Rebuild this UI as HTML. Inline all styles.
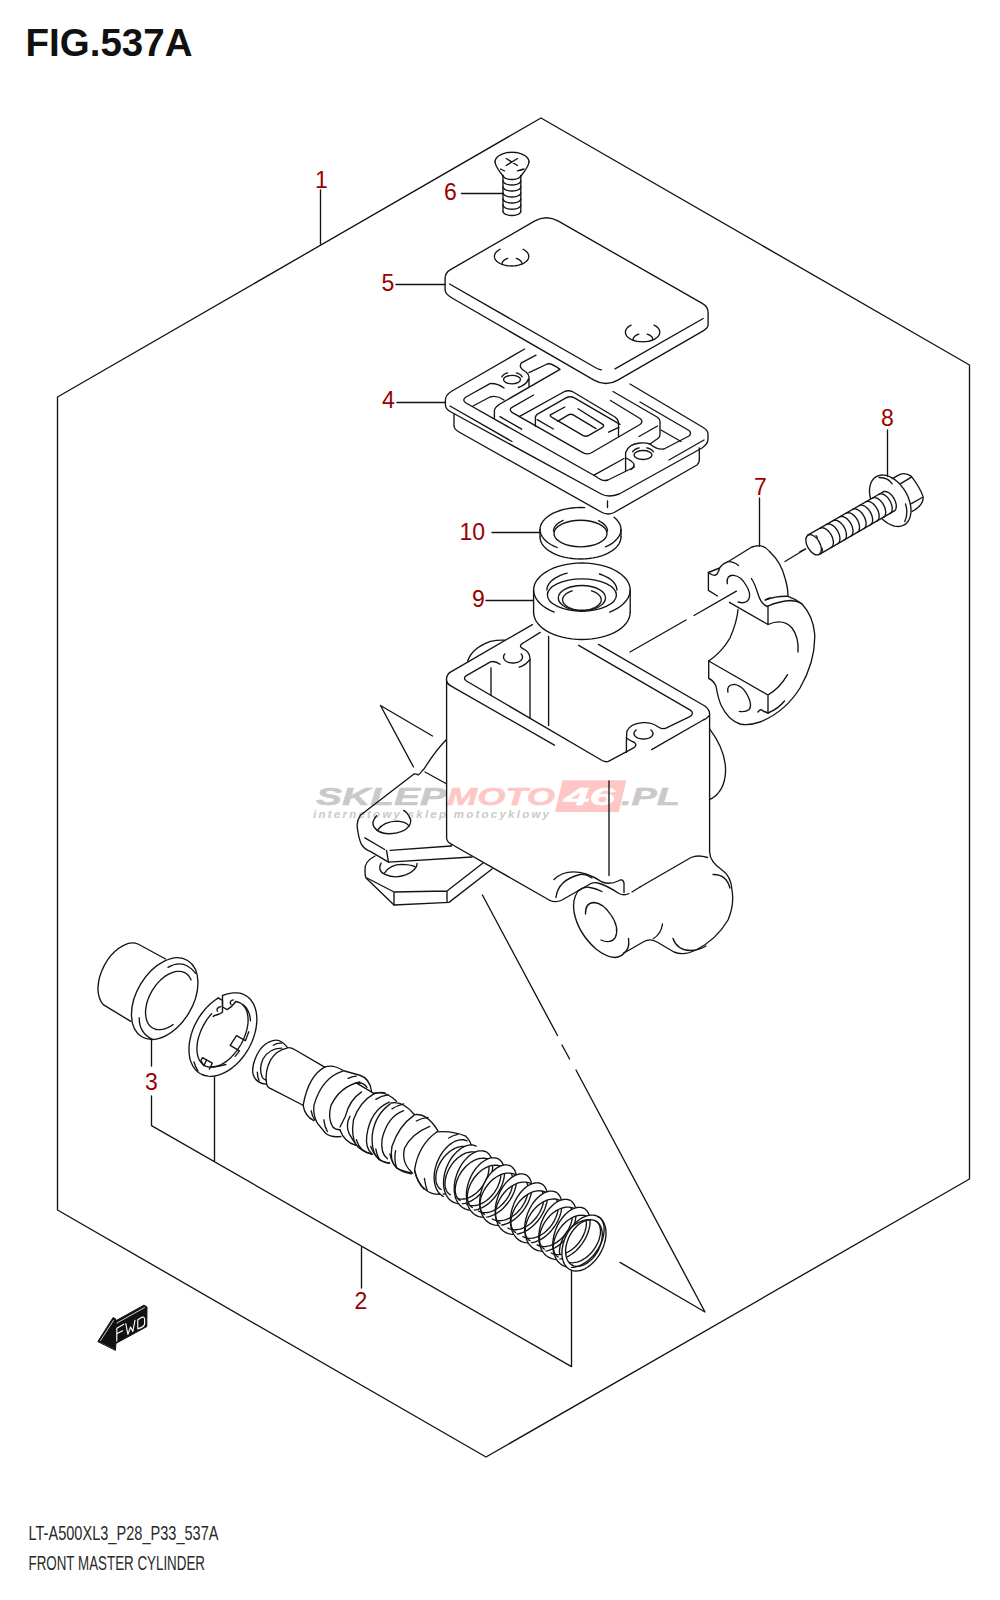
<!DOCTYPE html>
<html><head><meta charset="utf-8"><style>
html,body{margin:0;padding:0;background:#fff;}
svg{display:block;}
text{font-family:"Liberation Sans",sans-serif;}
</style></head><body>
<svg width="1000" height="1600" viewBox="0 0 1000 1600">
<g id="wm" font-family="Liberation Sans" font-weight="bold" font-style="italic">
<path d="M562.5,780.3 L626.3,780.3 L618.8,812 L555,812 Z" fill="#ffc6c6"/>
<text x="316" y="805" font-size="23.7" fill="#c9c9c9" stroke="#c9c9c9" stroke-width="0.5" textLength="130" lengthAdjust="spacingAndGlyphs">SKLEP</text>
<text x="447" y="805" font-size="23.7" fill="#ffc6c6" stroke="#ffc6c6" stroke-width="0.5" textLength="108" lengthAdjust="spacingAndGlyphs">MOTO</text>
<text x="564" y="805" font-size="23.7" fill="#ffffff" stroke="#ffffff" stroke-width="0.4" textLength="51" lengthAdjust="spacingAndGlyphs">46</text>
<text x="621" y="805" font-size="23.7" fill="#c9c9c9" stroke="#c9c9c9" stroke-width="0.5" textLength="59" lengthAdjust="spacingAndGlyphs">.PL</text>
<text x="313" y="818" font-size="11.5" fill="#c9c9c9" textLength="236" lengthAdjust="spacing">internetowy sklep motocyklowy</text>
</g>
<g fill="none" stroke="#141414" stroke-width="1.35" stroke-linecap="round" stroke-linejoin="round">
<!-- hexagon -->
<path d="M541,118 L969.5,365 L969.5,1179 L486,1457 L57.5,1210 L57.5,397 Z"/>
<!-- leaders -->
<path d="M320.5,190 V244 M461.5,193.5 H503 M396,284.5 H445 M397,402.5 H445 M492,532.5 H540 M486,600.5 H533 M887.5,430 V476 M759.5,498 V546"/>
<path d="M151.5,1040 V1066 M151.5,1096 V1125.6 L571.5,1366.6 V1270.5 M214.5,1077 V1161 M361.5,1247.5 V1288"/>
<path d="M495,162 L495.1,161 L495.4,160 L495.8,159 L496.5,158 L497.3,157.1 L498.2,156.3 L499.4,155.5 L500.6,154.8 L502,154.1 L503.5,153.6 L505.1,153.1 L506.7,152.7 L508.5,152.5 L510.2,152.3 L512,152.2 L513.8,152.3 L515.5,152.5 L517.3,152.7 L518.9,153.1 L520.5,153.6 L522,154.1 L523.4,154.8 L524.6,155.5 L525.8,156.3 L526.7,157.1 L527.5,158 L528.2,159 L528.6,160 L528.9,161 L529,162"/>
<path d="M495,162 C495.5,166 499,171 503,176 M529,162 C528.5,166 525,171 521,176"/>
<path d="M500.5,169 C502,170 503.5,170.5 504.5,170.8 M517.5,170.8 C520,170.2 522.5,169.5 524,169"/>
<path d="M506.2,158.5 L517.5,165.5 M506.2,165.5 L517.5,158.5"/>
<path d="M503,176 V211 M520.8,176 V211"/>
<path d="M520.8,175.3 L520.8,175.7 L520.6,176.2 L520.4,176.6 L520,177 L519.6,177.4 L519.1,177.8 L518.5,178.1 L517.9,178.4 L517.1,178.7 L516.4,178.9 L515.5,179.1 L514.7,179.3 L513.8,179.4 L512.8,179.5 L511.9,179.5 L511,179.5 L510,179.4 L509.1,179.3 L508.3,179.1 L507.4,178.9 L506.7,178.7 L505.9,178.4 L505.3,178.1 L504.7,177.8 L504.2,177.4 L503.8,177 L503.4,176.6 L503.2,176.2 L503,175.7 L503,175.3"/>
<path d="M520.8,180.8 L520.8,181.2 L520.6,181.7 L520.4,182.1 L520,182.5 L519.6,182.9 L519.1,183.3 L518.5,183.6 L517.9,183.9 L517.1,184.2 L516.4,184.4 L515.5,184.6 L514.7,184.8 L513.8,184.9 L512.8,185 L511.9,185 L511,185 L510,184.9 L509.1,184.8 L508.3,184.6 L507.4,184.4 L506.7,184.2 L505.9,183.9 L505.3,183.6 L504.7,183.3 L504.2,182.9 L503.8,182.5 L503.4,182.1 L503.2,181.7 L503,181.2 L503,180.8"/>
<path d="M520.8,186.8 L520.8,187.2 L520.6,187.7 L520.4,188.1 L520,188.5 L519.6,188.9 L519.1,189.3 L518.5,189.6 L517.9,189.9 L517.1,190.2 L516.4,190.4 L515.5,190.6 L514.7,190.8 L513.8,190.9 L512.8,191 L511.9,191 L511,191 L510,190.9 L509.1,190.8 L508.3,190.6 L507.4,190.4 L506.7,190.2 L505.9,189.9 L505.3,189.6 L504.7,189.3 L504.2,188.9 L503.8,188.5 L503.4,188.1 L503.2,187.7 L503,187.2 L503,186.8"/>
<path d="M520.8,192.8 L520.8,193.2 L520.6,193.7 L520.4,194.1 L520,194.5 L519.6,194.9 L519.1,195.3 L518.5,195.6 L517.9,195.9 L517.1,196.2 L516.4,196.4 L515.5,196.6 L514.7,196.8 L513.8,196.9 L512.8,197 L511.9,197 L511,197 L510,196.9 L509.1,196.8 L508.3,196.6 L507.4,196.4 L506.7,196.2 L505.9,195.9 L505.3,195.6 L504.7,195.3 L504.2,194.9 L503.8,194.5 L503.4,194.1 L503.2,193.7 L503,193.2 L503,192.8"/>
<path d="M520.8,198.8 L520.8,199.2 L520.6,199.7 L520.4,200.1 L520,200.5 L519.6,200.9 L519.1,201.3 L518.5,201.6 L517.9,201.9 L517.1,202.2 L516.4,202.4 L515.5,202.6 L514.7,202.8 L513.8,202.9 L512.8,203 L511.9,203 L511,203 L510,202.9 L509.1,202.8 L508.3,202.6 L507.4,202.4 L506.7,202.2 L505.9,201.9 L505.3,201.6 L504.7,201.3 L504.2,200.9 L503.8,200.5 L503.4,200.1 L503.2,199.7 L503,199.2 L503,198.8"/>
<path d="M520.8,205 L520.8,205.4 L520.6,205.9 L520.4,206.3 L520,206.7 L519.6,207.1 L519.1,207.5 L518.5,207.8 L517.9,208.1 L517.1,208.4 L516.4,208.6 L515.5,208.8 L514.7,209 L513.8,209.1 L512.8,209.2 L511.9,209.2 L511,209.2 L510,209.1 L509.1,209 L508.3,208.8 L507.4,208.6 L506.7,208.4 L505.9,208.1 L505.3,207.8 L504.7,207.5 L504.2,207.1 L503.8,206.7 L503.4,206.3 L503.2,205.9 L503,205.4 L503,205"/>
<path d="M520.8,211.3 L520.8,211.7 L520.6,212.2 L520.4,212.6 L520,213 L519.6,213.4 L519.1,213.8 L518.5,214.1 L517.9,214.4 L517.1,214.7 L516.4,214.9 L515.5,215.1 L514.7,215.3 L513.8,215.4 L512.8,215.5 L511.9,215.5 L511,215.5 L510,215.4 L509.1,215.3 L508.3,215.1 L507.4,214.9 L506.7,214.7 L505.9,214.4 L505.3,214.1 L504.7,213.8 L504.2,213.4 L503.8,213 L503.4,212.6 L503.2,212.2 L503,211.7 L503,211.3"/>
<path d="M445.1,290 V278 Q445.1,272.7 450.5,269.6 L534.4,221.2 Q546.4,214.3 558.4,221.2 L701.8,303.1 Q708.1,306.7 708.1,312 V324.8 Q708.1,328 703.2,330.8 L617.8,380.1 Q605.9,387 594,380.1 L452,298 Q445.1,294 445.1,290 Z"/>
<path d="M449.6,284 L597,368.5 Q599.5,369.6 601.5,369.8 M615,368.9 L703.2,318.5"/>
<path d="M523.1,249.3 L524.4,250 L525.5,250.8 L526.5,251.6 L527.3,252.5 L528,253.4 L528.4,254.4 L528.7,255.4 L528.8,256.4 L528.7,257.4 L528.4,258.4 L528,259.4 L527.3,260.3 L526.5,261.2 L525.5,262 L524.4,262.8 L523.1,263.5 L521.7,264.2 L520.2,264.7 L518.6,265.2 L516.9,265.5 L515.2,265.8 L513.4,265.9 L511.6,266 L509.8,265.9 L508,265.8 L506.3,265.5 L504.6,265.2 L503,264.7 L501.5,264.2 L500.1,263.5 L498.8,262.8 L497.7,262 L496.7,261.2 L495.9,260.3 L495.2,259.4 L494.8,258.4 L494.5,257.4 L494.4,256.4 L494.5,255.4 L494.8,254.4 L495.2,253.4 L495.9,252.5 L496.7,251.6 L497.7,250.8 L498.8,250 L500.1,249.3"/>
<path d="M502,264 L502.1,263.3 L502.3,262.6 L502.6,261.9 L503,261.3 L503.6,260.7 L504.2,260.1 L505,259.6 L505.8,259.1 L506.8,258.7 L507.8,258.4"/>
<path d="M516.2,258.4 L517.2,258.7 L518.2,259.1 L519,259.6 L519.8,260.1 L520.4,260.7 L521,261.3 L521.4,261.9 L521.7,262.6 L521.9,263.3 L522,264"/>
<path d="M654.1,325.1 L655.4,325.8 L656.5,326.6 L657.5,327.4 L658.3,328.3 L659,329.2 L659.4,330.2 L659.7,331.2 L659.8,332.2 L659.7,333.2 L659.4,334.2 L659,335.2 L658.3,336.1 L657.5,337 L656.5,337.8 L655.4,338.6 L654.1,339.3 L652.7,340 L651.2,340.5 L649.6,341 L647.9,341.3 L646.2,341.6 L644.4,341.7 L642.6,341.8 L640.8,341.7 L639,341.6 L637.3,341.3 L635.6,341 L634,340.5 L632.5,340 L631.1,339.3 L629.8,338.6 L628.7,337.8 L627.7,337 L626.9,336.1 L626.2,335.2 L625.8,334.2 L625.5,333.2 L625.4,332.2 L625.5,331.2 L625.8,330.2 L626.2,329.2 L626.9,328.3 L627.7,327.4 L628.7,326.6 L629.8,325.8 L631.1,325.1"/>
<path d="M633,339.8 L633.1,339.1 L633.3,338.4 L633.6,337.7 L634,337.1 L634.6,336.5 L635.2,335.9 L636,335.4 L636.8,334.9 L637.8,334.5 L638.8,334.2"/>
<path d="M647.2,334.2 L648.2,334.5 L649.2,334.9 L650,335.4 L650.8,335.9 L651.4,336.5 L652,337.1 L652.4,337.7 L652.7,338.4 L652.9,339.1 L653,339.8"/>
<path d="M524.6,349 L452,391 Q445.4,395 445.4,400 V405 Q445.4,409 451,412 L601.2,494 Q608.4,498 619.2,494 L702,448 Q708,444 708,439 V434 Q708,430 702.4,427 L630,384"/>
<path d="M450,406 L512,441.5 M669,460 L704,440"/>
<path d="M454,414 V426 Q454.4,429.5 459,432 L601.2,512 Q608.4,516 615,512 L697,465 Q699.3,463 699.3,460 V448"/>
<path d="M607.5,501 V507.5"/>
<path d="M504,388 Q497,383 490,383.6 L466,397 Q461.5,400 466,403 L596,476.5 Q603,482 608,480 L634.5,467"/>
<path d="M473,406 L490,397 Q497,395 504,400"/>
<ellipse cx="512" cy="379.6" rx="8.5" ry="4.2"/>
<path d="M501.9,376.9 L502.2,376.3 L502.7,375.6 L503.3,375.1 L504,374.5 L504.7,374 L505.6,373.6 L506.6,373.2 L507.6,372.9"/>
<path d="M516.4,372.9 L517.4,373.2 L518.4,373.6 L519.3,374 L520,374.5 L520.7,375.1 L521.3,375.6 L521.8,376.3 L522.1,376.9"/>
<path d="M536,355.2 L521,363.2 Q518.5,368 526,372 Q529,374.5 529,377 V386.4 M518.4,387.5 Q527,384.5 528.4,379"/>
<path d="M529,372.6 L547.2,364 Q551,362.5 560,369.4 L500,404 Q494.4,407.5 494.4,411 V418"/>
<path d="M533.6,395 L512,407.4 Q508.6,409.4 512,412.4 L582.8,452.6 Q587,455 591,453 L640,424.5 Q644,421.5 640,418.5 L610.5,400.5"/>
<path d="M519.2,416.6 L563.6,392 Q568.4,389.6 573.2,392 L615,417 Q618.5,419.5 618.5,423 V436.5"/>
<path d="M535.4,426.2 V417.8 Q535.4,414.8 538.4,413.6 L566,397.8 Q570.2,395.6 574.4,397.8 L620,424.4"/>
<path d="M537.2,419.6 L553.4,429 M550.4,414.8 L564.8,407"/>
<path d="M550.4,414.8 Q549.8,416.6 552.8,417.8 L582.8,435.4 Q585.8,437 588.8,435.4 L602.6,427.4 Q605,425.6 602,423.8 L578,408.8"/>
<path d="M557.6,421.4 L568.4,414.8 Q570.8,413.6 573.2,414.8 L596,428.6"/>
<path d="M608.6,432.2 L618.8,427.4 M500,416.6 L521.6,429.2"/>
<path d="M613,391.5 L657,417 Q660,419 660,422 V434 Q660,437 658.5,438 L650,444"/>
<path d="M640,402 L689,430.5 Q692,433 689,436 L664,449 Q657,450 650,444"/>
<path d="M639,436.5 L657.5,426 M661,430 L681,441.5"/>
<path d="M625.6,470.4 V452.8 Q628,444 640,443 Q646,442.5 650,444"/>
<ellipse cx="643" cy="455" rx="9" ry="4.5"/>
<path d="M632.7,451.8 L633.1,451.1 L633.7,450.5 L634.4,449.9 L635.2,449.4 L636.1,448.9 L637.1,448.5 L638.1,448.2 L639.2,447.9"/>
<path d="M646.8,447.9 L647.9,448.2 L648.9,448.5 L649.9,448.9 L650.8,449.4 L651.6,449.9 L652.3,450.5 L652.9,451.1 L653.3,451.8"/>
<path d="M626,458 Q632,461 634,464 Q634.5,467 631,469.5"/>
<path d="M594,475.1 L624,458.5"/>
<path d="M557.3,547.5 L553.9,546.1 L550.8,544.5 L548.1,542.7 L545.7,540.8 L543.7,538.7 L542.2,536.6 L541,534.3 L540.3,532.1 L540,529.7 L540.2,527.4 L540.8,525.1 L541.9,522.9 L543.4,520.7 L545.3,518.6 L547.6,516.7 L550.2,514.9 L553.2,513.2 L556.5,511.8 L560.1,510.5 L563.9,509.4 L567.9,508.6 L572,508 L576.2,507.6 L580.5,507.5 L584.7,507.6"/>
<path d="M614.1,517.2 L616.3,519.2 L618.1,521.4 L619.5,523.6 L620.5,525.9 L620.9,528.2 L620.9,530.6 L620.5,532.9 L619.6,535.2 L618.2,537.5 L616.4,539.6 L614.2,541.7 L611.7,543.6 L608.7,545.3 L605.4,546.8"/>
<path d="M621,537 L620.8,539.3 L620.1,541.6 L619,543.8 L617.5,545.9 L615.6,548 L613.3,549.9 L610.6,551.7 L607.6,553.3 L604.3,554.8 L600.8,556.1 L597,557.1 L593,557.9 L588.9,558.5 L584.7,558.9 L580.5,559 L576.3,558.9 L572.1,558.5 L568,557.9 L564,557.1 L560.2,556.1 L556.7,554.8 L553.4,553.3 L550.4,551.7 L547.7,549.9 L545.4,548 L543.5,545.9 L542,543.8 L540.9,541.6 L540.2,539.3 L540,537"/>
<path d="M540,529.5 V537 M621,529.5 V537"/>
<ellipse cx="580.5" cy="533.5" rx="26.5" ry="13.3"/>
<path d="M553.5,531 L553.7,529.5 L554.1,528 L554.9,526.6 L556,525.2 L557.4,523.8 L559.1,522.6 L561,521.5 L563.1,520.4"/>
<path d="M598.6,520.7 L600.6,521.8 L602.3,522.9 L603.9,524.1 L605.2,525.4 L606.2,526.7 L606.9,528.1 L607.4,529.6 L607.5,531"/>
<path d="M554.2,612.1 L550.2,610.4 L546.5,608.4 L543.3,606.2 L540.4,603.8 L538.1,601.3 L536.2,598.7 L534.8,595.9 L533.9,593.1 L533.6,590.3 L533.8,587.5 L534.6,584.6 L535.8,581.9 L537.6,579.2 L539.9,576.7 L542.6,574.3 L545.8,572.1 L549.4,570 L553.3,568.2 L557.6,566.7 L562.1,565.4 L566.9,564.3 L571.8,563.6 L576.8,563.1 L581.9,563 L587,563.1 L592,563.6 L596.9,564.3 L601.7,565.4 L606.2,566.7 L610.5,568.2 L614.4,570 L618,572.1 L621.2,574.3 L623.9,576.7 L626.2,579.2 L628,581.9 L629.2,584.6 L630,587.5 L630.2,590.3 L629.9,593.1 L629,595.9 L627.6,598.7 L625.7,601.3 L623.4,603.8 L620.5,606.2 L617.3,608.4 L613.6,610.4 L609.6,612.1"/>
<path d="M630.2,612.5 L629.9,615.3 L629.1,618.1 L627.8,620.8 L626,623.5 L623.7,626 L621,628.4 L617.8,630.6 L614.2,632.6 L610.3,634.3 L606,635.9 L601.5,637.2 L596.8,638.2 L591.9,638.9 L586.9,639.4 L581.9,639.5 L576.9,639.4 L571.9,638.9 L567,638.2 L562.3,637.2 L557.8,635.9 L553.5,634.3 L549.6,632.6 L546,630.6 L542.8,628.4 L540.1,626 L537.8,623.5 L536,620.8 L534.7,618.1 L533.9,615.3 L533.6,612.5"/>
<path d="M533.6,590 V612.5 M630.2,590 V612.5"/>
<path d="M546.9,590 L547.1,587.9 L547.8,585.8 L548.9,583.8 L550.4,581.9 L552.4,580.1 L554.7,578.4 L557.4,576.8 L560.4,575.4 L563.6,574.2 L567.1,573.2"/>
<path d="M599.4,574 L602.5,575 L605.3,576.3 L607.9,577.6 L610.2,579.1 L612.2,580.8 L613.9,582.5 L615.2,584.3 L616.1,586.2 L616.7,588.1 L616.9,590"/>
<ellipse cx="581.9" cy="595" rx="34.5" ry="16.2"/>
<ellipse cx="581.9" cy="598.1" rx="23.6" ry="12.6"/>
<path d="M591.5,590.8 L593.2,591.4 L594.8,592.1 L596.2,592.8 L597.5,593.7 L598.6,594.6 L599.5,595.6 L600.3,596.6 L600.8,597.6 L601.1,598.7 L601.2,599.8 L601.1,600.9 L600.8,602 L600.3,603 L599.5,604 L598.6,605 L597.5,605.9 L596.2,606.8 L594.8,607.5 L593.2,608.2 L591.5,608.8 L589.8,609.3 L587.9,609.7 L585.9,610 L583.9,610.1 L581.9,610.2 L579.9,610.1 L577.9,610 L575.9,609.7 L574,609.3 L572.2,608.8 L570.6,608.2 L569,607.5 L567.6,606.8 L566.3,605.9 L565.2,605 L564.3,604 L563.5,603 L563,602 L562.7,600.9 L562.6,599.8 L562.7,598.7 L563,597.6 L563.5,596.6 L564.3,595.6 L565.2,594.6 L566.3,593.7 L567.6,592.8 L569,592.1 L570.6,591.4 L572.2,590.8"/>
<path d="M532.4,624.6 L449.6,672.6 Q446,675.5 446.6,681 L446.6,838 Q447,842.5 452,844.5 L550,900.5"/>
<path d="M446.6,681 Q447.2,684 450.8,685.8 L554.4,745.2"/>
<path d="M500,664.2 Q495.2,660.6 490.4,661.8 L466.4,675.6 Q462.5,678.3 466.4,681 L602.1,760.5 Q605.7,762.3 608.4,761.4 L633.6,747.9 Q637.5,745.5 634.5,742.5 Q630,740.7 626.4,738"/>
<path d="M491,667.8 V694.8"/>
<path d="M540.2,632.4 L522.8,643.2 Q518,646 522.8,648.6 L526,650.5 Q530,653.4 530,659.4 V718"/>
<path d="M521.2,654 L521.7,654.6 L522,655.1 L522.3,655.8 L522.4,656.4 L522.5,657 L522.4,657.6 L522.3,658.2 L522,658.9 L521.7,659.4 L521.2,660 L520.7,660.5 L520.1,661 L519.4,661.5 L518.6,661.9 L517.8,662.2 L516.9,662.5 L515.9,662.7 L515,662.9 L514,663 L513,663 L512,663 L511,662.9 L510.1,662.7 L509.1,662.5 L508.2,662.2 L507.4,661.9 L506.6,661.5 L505.9,661 L505.3,660.5 L504.8,660 L504.3,659.4 L504,658.9 L503.7,658.2 L503.6,657.6 L503.5,657 L503.6,656.4 L503.7,655.8 L504,655.1 L504.3,654.6 L504.8,654"/>
<path d="M519.2,667.2 Q526.4,664.8 530,659.4"/>
<path d="M548.6,636.5 V725.4"/>
<path d="M467.6,661.2 Q472,648 490.4,641.4 Q498,639.8 504.8,640.2"/>
<path d="M578.7,645.3 L690.3,710.1 Q694.5,713 690.3,716.4 L666,728.1 Q662.4,729.5 658.8,727.2 Q651.6,722 642.6,722.7 Q630,724 627,731 Q626.4,733 626.4,752.4"/>
<path d="M650.8,730 L651.4,730.4 L651.9,730.9 L652.3,731.5 L652.6,732 L652.9,732.6 L653,733.1 L653,733.7 L652.9,734.3 L652.7,734.9 L652.4,735.4 L652,736 L651.5,736.5 L650.9,736.9 L650.3,737.4 L649.5,737.8 L648.7,738.1 L647.8,738.4 L646.9,738.6 L646,738.8 L645,738.9 L644,739 L643,739 L642,738.9 L641,738.8 L640.1,738.6 L639.2,738.4 L638.3,738.1 L637.5,737.8 L636.7,737.4 L636.1,736.9 L635.5,736.5 L635,736 L634.6,735.4 L634.3,734.9 L634.1,734.3 L634,733.7 L634,733.1 L634.1,732.6 L634.4,732 L634.7,731.5 L635.1,730.9 L635.6,730.4 L636.2,730"/>
<path d="M598.5,644.4 L704.8,706 Q709.6,709.6 709.6,714 V852 Q710,862 722,870 Q731,876 732,890 Q734.5,905 728,920 Q716,940 696,950 Q684,956 674,952 L657,942 Q650,938 644,941.5 L624,953"/>
<path d="M709.2,715.6 Q707.2,718.4 703.2,720 L651.6,749.7"/>
<path d="M709.6,728.8 Q725.6,750 725.6,770.4 Q725,792 709.6,799.6"/>
<path d="M609,781 V875.5"/>
<path d="M640,887 L691,857.5 Q698,854.5 707.5,857.5"/>
<path d="M632,892 L640,887"/>
<path d="M713,874.5 Q726,874 730,888 M673,938.5 Q677,950 690,950.5 Q700,950 706,946"/>
<path d="M662.5,924 Q661,934 653.5,938.5"/>
<path d="M550,900.5 Q556,903 562,900 L590,884 Q594,882 598,883 Q606,885 619,893.5 Q624,896 629,893.5"/>
<path d="M554,879.5 Q566,868 586,874 Q595,877 602,882 Q610,885 618,881 Q623,878 624,883 V892.5"/>
<path d="M556,897.5 Q558,880 580,874.5 Q586,874 592,878"/>
<path d="M578,891 Q572,900 574,912 Q578,933 596,949 Q606,957 615,957.5 Q621,957 624,953"/>
<path d="M578,891 Q584,886 590,887.5 Q596,888.5 602,891.5"/>
<path d="M585.5,914 Q585,903 594,902.5 Q603,903 611,915 Q620,928 615,938 Q610,944 601,940"/>
<path d="M628.5,938.5 Q630,949 624,953"/>
<path d="M380.5,705.5 L432.5,736 M380.5,705.5 L413.5,767"/>
<path d="M446,740 Q436,750 424,769 L422,771 Q420,774 418,775 Q416,773.5 414,774 L360.4,815.3 Q356.5,820.7 357.25,827 Q358.5,838 361.3,844.1 Q364,849 370.3,851.3 L388.5,862.1 L472,857"/>
<path d="M425,772 L446,783.5"/>
<path d="M364.9,837.8 L384.7,849.5 M386.5,850.4 L388.5,862.1 M390.1,850.4 L451,846"/>
<path d="M452,844.5 L451,846"/>
<path d="M376.6,815.75 Q371,822 374,827 Q379,834 389.2,833.75 Q404,833 409,826.1 Q412,821 409.9,818 Q407.5,812.5 403.6,810.35"/>
<path d="M378,829.7 Q384,821.5 397.3,821.2 Q405,821.5 409,825.85"/>
<path d="M375,856 Q364,862 365,870 Q365,876 366,878 L394,905 L449,902.4 L492,869"/>
<path d="M367,878 L394,892 V905 M394,892 L447,891 V902 M447,891 L483,863"/>
<path d="M381.1,863 Q377,871 385.6,874.7 Q395,879 406.3,874.7 Q417,870 417.1,863.5"/>
<path d="M384.7,872.9 Q390,864.5 401.8,864.35 Q410,864.5 414.9,866.6"/>
<path d="M770,551.9 Q765,546 759.5,545.6 Q755,545.8 751.8,547 L728,561.7 Q722.4,563.8 719.6,568 L708.4,572.5 V590.4 L717.5,596"/>
<path d="M708.4,572.5 Q714,577 716.8,574.3 Q719,571 719.6,568"/>
<path d="M728,561.7 Q733.6,561.5 738.5,565.5"/>
<path d="M727.3,583.7 Q726,575 733.6,575.3 Q741,576 746.2,585.5 Q751,593 749,598.8 Q746,604.5 738.1,602"/>
<path d="M729.4,602.3 L768,624.5 V606.5"/>
<path d="M751.4,578.5 Q755,584 758,594 Q761,604 767.2,606.5"/>
<path d="M765.1,600.2 Q768,598.5 770,598"/>
<path d="M770,551.9 Q781,562 785,578 Q788,588 788,596.3 Q796,599 802,604 Q813,616 814.6,633.4 Q816,660 800,688 Q785,712 760,722 Q748,726 740,724 Q728,720 721,705 Q718,698 716,686 Q713,680 708.7,678.5 V661"/>
<path d="M708.7,661 Q722,652 730,638 Q737,622 738,609.5"/>
<path d="M708.7,661 L768,695 V713 M768,695 Q780,688 787.5,674.7"/>
<path d="M768,624.5 Q783,618 792,628 Q799,637 798,652"/>
<path d="M765.6,599.8 Q776,596 788,596.3 M767.7,606.1 Q779.6,601 790.8,600.5 Q797.8,601 802,604"/>
<path d="M727.9,692.1 Q726.5,684.5 734.3,684.3 Q745,686 750,701.4 Q753,713 739.3,711.4"/>
<path d="M768,713 Q778,709 784.5,701"/>
<path d="M758,712 Q761,708 763,711 L768,713"/>
<path d="M630,652 L686,620 M694,615.5 L736.4,591.1 M785,561.5 L805.5,549"/>
<ellipse cx="813.6" cy="544.8" rx="11.1" ry="6.3" transform="rotate(60 813.6 544.8)"/>
<path d="M807.8,535.2 L882.9,492 M819.4,554.4 L893.9,511.2"/>
<path d="M816,535.5 L817.5,538 M822,548 L822.5,551"/>
<path d="M820,528.3 L820.6,528 L821.3,527.8 L822,527.8 L822.7,527.8 L823.5,528 L824.3,528.2 L825.1,528.6 L825.9,529.1 L826.7,529.7 L827.5,530.3 L828.3,531.1 L829.1,531.9 L829.8,532.8 L830.4,533.7 L831.1,534.7 L831.6,535.7 L832.1,536.8 L832.5,537.8 L832.8,538.9 L833.1,540 L833.3,541 L833.4,542 L833.4,542.9 L833.3,543.8 L833.1,544.6 L832.9,545.4 L832.6,546 L832.2,546.6 L831.7,547.1 L831.1,547.5"/>
<path d="M826.6,524.5 L827.2,524.2 L827.8,524 L828.5,524 L829.3,524 L830.1,524.2 L830.8,524.5 L831.7,524.8 L832.5,525.3 L833.3,525.9 L834.1,526.6 L834.9,527.3 L835.6,528.1 L836.3,529 L837,530 L837.6,530.9 L838.1,532 L838.6,533 L839,534.1 L839.4,535.1 L839.6,536.2 L839.8,537.2 L839.9,538.2 L839.9,539.1 L839.8,540 L839.7,540.8 L839.4,541.6 L839.1,542.3 L838.7,542.8 L838.2,543.3 L837.7,543.7"/>
<path d="M833.1,520.7 L833.7,520.4 L834.4,520.3 L835.1,520.2 L835.8,520.3 L836.6,520.4 L837.4,520.7 L838.2,521.1 L839,521.6 L839.8,522.1 L840.6,522.8 L841.4,523.5 L842.1,524.4 L842.9,525.2 L843.5,526.2 L844.1,527.2 L844.7,528.2 L845.2,529.2 L845.6,530.3 L845.9,531.4 L846.2,532.4 L846.3,533.4 L846.4,534.4 L846.4,535.4 L846.4,536.3 L846.2,537.1 L846,537.8 L845.6,538.5 L845.2,539.1 L844.8,539.6 L844.2,539.9"/>
<path d="M839.7,516.9 L840.3,516.7 L840.9,516.5 L841.6,516.4 L842.4,516.5 L843.1,516.6 L843.9,516.9 L844.7,517.3 L845.5,517.8 L846.4,518.4 L847.2,519 L847.9,519.8 L848.7,520.6 L849.4,521.5 L850.1,522.4 L850.7,523.4 L851.2,524.4 L851.7,525.5 L852.1,526.5 L852.5,527.6 L852.7,528.6 L852.9,529.7 L853,530.6 L853,531.6 L852.9,532.5 L852.7,533.3 L852.5,534.1 L852.2,534.7 L851.8,535.3 L851.3,535.8 L850.8,536.2"/>
<path d="M846.2,513.2 L846.8,512.9 L847.5,512.7 L848.2,512.7 L848.9,512.7 L849.7,512.9 L850.5,513.1 L851.3,513.5 L852.1,514 L852.9,514.6 L853.7,515.2 L854.5,516 L855.2,516.8 L855.9,517.7 L856.6,518.6 L857.2,519.6 L857.8,520.6 L858.2,521.7 L858.7,522.7 L859,523.8 L859.2,524.9 L859.4,525.9 L859.5,526.9 L859.5,527.8 L859.4,528.7 L859.3,529.5 L859,530.3 L858.7,530.9 L858.3,531.5 L857.8,532 L857.3,532.4"/>
<path d="M852.7,509.4 L853.3,509.1 L854,508.9 L854.7,508.9 L855.4,508.9 L856.2,509.1 L857,509.4 L857.8,509.7 L858.6,510.2 L859.4,510.8 L860.2,511.5 L861,512.2 L861.8,513 L862.5,513.9 L863.1,514.9 L863.7,515.9 L864.3,516.9 L864.8,517.9 L865.2,519 L865.5,520 L865.8,521.1 L866,522.1 L866.1,523.1 L866.1,524 L866,524.9 L865.8,525.8 L865.6,526.5 L865.2,527.2 L864.8,527.7 L864.4,528.2 L863.8,528.6"/>
<path d="M859.3,505.6 L859.9,505.3 L860.5,505.2 L861.2,505.1 L862,505.2 L862.7,505.3 L863.5,505.6 L864.4,506 L865.2,506.5 L866,507 L866.8,507.7 L867.6,508.4 L868.3,509.3 L869,510.1 L869.7,511.1 L870.3,512.1 L870.8,513.1 L871.3,514.1 L871.7,515.2 L872.1,516.3 L872.3,517.3 L872.5,518.3 L872.6,519.3 L872.6,520.3 L872.5,521.2 L872.4,522 L872.1,522.7 L871.8,523.4 L871.4,524 L870.9,524.5 L870.4,524.8"/>
<path d="M865.8,501.8 L866.4,501.6 L867.1,501.4 L867.8,501.3 L868.5,501.4 L869.3,501.5 L870.1,501.8 L870.9,502.2 L871.7,502.7 L872.5,503.3 L873.3,503.9 L874.1,504.7 L874.8,505.5 L875.5,506.4 L876.2,507.3 L876.8,508.3 L877.4,509.3 L877.9,510.4 L878.3,511.4 L878.6,512.5 L878.9,513.5 L879,514.6 L879.1,515.5 L879.1,516.5 L879.1,517.4 L878.9,518.2 L878.7,519 L878.3,519.6 L877.9,520.2 L877.5,520.7 L876.9,521.1"/>
<path d="M872.4,498.1 L873,497.8 L873.6,497.6 L874.3,497.6 L875,497.6 L875.8,497.8 L876.6,498 L877.4,498.4 L878.2,498.9 L879.1,499.5 L879.9,500.1 L880.6,500.9 L881.4,501.7 L882.1,502.6 L882.7,503.5 L883.4,504.5 L883.9,505.5 L884.4,506.6 L884.8,507.6 L885.1,508.7 L885.4,509.8 L885.6,510.8 L885.7,511.8 L885.7,512.7 L885.6,513.6 L885.4,514.4 L885.2,515.2 L884.9,515.8 L884.5,516.4 L884,516.9 L883.5,517.3"/>
<path d="M878.9,494.3 L879.5,494 L880.1,493.8 L880.8,493.8 L881.6,493.8 L882.4,494 L883.2,494.3 L884,494.6 L884.8,495.1 L885.6,495.7 L886.4,496.4 L887.2,497.1 L887.9,497.9 L888.6,498.8 L889.3,499.8 L889.9,500.8 L890.4,501.8 L890.9,502.8 L891.3,503.9 L891.7,504.9 L891.9,506 L892.1,507 L892.2,508 L892.2,508.9 L892.1,509.8 L892,510.7 L891.7,511.4 L891.4,512.1 L891,512.6 L890.5,513.1 L890,513.5"/>
<path d="M883,492 L883.6,491.7 L884.2,491.5 L884.9,491.5 L885.6,491.5 L886.4,491.7 L887.2,492 L888,492.3 L888.8,492.8 L889.7,493.4 L890.5,494.1 L891.2,494.8 L892,495.6 L892.7,496.5 L893.3,497.5 L894,498.5 L894.5,499.5 L895,500.5 L895.4,501.6 L895.7,502.6 L896,503.7 L896.2,504.7 L896.3,505.7 L896.3,506.6 L896.2,507.5 L896,508.4 L895.8,509.1 L895.5,509.8 L895.1,510.3 L894.6,510.8 L894,511.2"/>
<path d="M870.6,499 L870,496.3 L869.6,493.7 L869.5,491.2 L869.6,488.7 L870,486.4 L870.5,484.2 L871.3,482.3 L872.2,480.5 L873.4,479 L874.8,477.6 L876.3,476.6 L878,475.8 L879.8,475.3 L881.7,475 L883.7,475.1 L885.8,475.4 L888,476 L890.1,476.9 L892.3,478 L894.5,479.4 L896.5,481 L898.6,482.8 L900.5,484.9 L902.3,487.1 L904,489.4 L905.6,491.9 L907,494.5 L908.1,497.1 L909.1,499.8 L909.9,502.5 L910.5,505.2 L910.9,507.8 L911,510.3 L910.9,512.8 L910.5,515.1 L910,517.2 L909.2,519.2 L908.3,521 L907.1,522.5 L905.7,523.9 L904.2,524.9 L902.5,525.7 L900.7,526.2 L898.8,526.5 L896.8,526.4 L894.7,526.1 L892.5,525.5 L890.4,524.6 L888.2,523.5 L886,522.1 L884,520.5 L881.9,518.7"/>
<path d="M879,477.5 Q888,477.2 892.2,483.8 M905.5,504 Q908.5,513.2 904.8,521.6"/>
<path d="M892.2,478.6 L900,474.3 Q905.7,472.1 911.4,476.4 Q920.7,488.6 923.2,497.1 Q923.5,505.7 912.1,511.4"/>
<path d="M900.7,483.6 L911.4,477.1 M911.4,503.6 L922.1,497.5"/>
<path d="M800,551.5 L805.5,549"/>
<path d="M165.6,959 L138,944 Q133.2,942 128.4,943.4 Q108,950.6 99.6,977 Q95,995 103.2,1004.6 L130.8,1021.4"/>
<ellipse cx="164.7" cy="998.6" rx="44.5" ry="28.1" transform="rotate(-59 164.7 998.6)" fill="#fff"/>
<path d="M173.2,1024.5 L170.8,1026.1 L168.3,1027.4 L165.8,1028.5 L163.4,1029.2 L161,1029.6 L158.8,1029.7 L156.6,1029.5 L154.6,1028.9 L152.7,1028 L151,1026.8 L149.5,1025.4 L148.2,1023.6 L147.2,1021.6 L146.4,1019.4 L145.9,1016.9 L145.6,1014.3 L145.5,1011.5 L145.8,1008.6 L146.3,1005.6 L147,1002.5 L148,999.4 L149.2,996.4 L150.7,993.3 L152.3,990.4 L154.2,987.6 L156.1,984.9 L158.3,982.4 L160.5,980.1 L162.9,978 L165.3,976.1 L167.8,974.6 L170.3,973.3 L172.7,972.3 L175.1,971.7 L177.5,971.3 L179.8,971.3 L181.9,971.6 L183.9,972.3 L185.7,973.2 L187.4,974.5 L188.8,976 L190,977.8 L191,979.9"/>
<path d="M168,967.4 Q183.6,958 195.6,973.4"/>
<path d="M139.2,1017.8 Q139,1033 152.4,1039.4"/>
<path d="M222.7,995.6 L226.3,994.2 L229.9,993.3 L233.3,992.8 L236.7,992.8 L239.9,993.2 L242.9,994.1 L245.7,995.5 L248.2,997.3 L250.5,999.5 L252.4,1002.1 L254,1005.1 L255.3,1008.4 L256.2,1012 L256.7,1015.8 L256.9,1019.9 L256.6,1024.1 L256,1028.5 L255,1032.9 L253.7,1037.3 L252,1041.7 L250,1046 L247.7,1050.2 L245.1,1054.2 L242.2,1058 L239.2,1061.5 L235.9,1064.7 L232.5,1067.6 L229,1070.1 L225.5,1072.2 L221.9,1073.9 L218.3,1075.2 L214.7,1076 L211.3,1076.3 L208,1076.1 L204.8,1075.5 L201.9,1074.5 L199.2,1073 L196.8,1071 L194.6,1068.6 L192.8,1065.9 L191.3,1062.8 L190.1,1059.4 L189.4,1055.7 L189,1051.8 L189,1047.7 L189.3,1043.4 L190.1,1039 L191.2,1034.6 L192.6,1030.2 L194.4,1025.8 L196.6,1021.6 L199,1017.4 L201.7,1013.5 L204.6,1009.8 L207.7,1006.4 L211,1003.3 L214.5,1000.5 L218,998.1"/>
<path d="M235.6,1001.5 L237.8,1002 L239.9,1002.8 L241.8,1004 L243.5,1005.5 L244.9,1007.4 L246.1,1009.5 L247,1011.9 L247.6,1014.6 L248,1017.5 L248.1,1020.6 L247.9,1023.9 L247.4,1027.2 L246.6,1030.7 L245.5,1034.1 L244.2,1037.6 L242.7,1041.1 L240.9,1044.5 L238.9,1047.7 L236.7,1050.8 L234.4,1053.7 L231.9,1056.4 L229.4,1058.9 L226.7,1061.1 L224,1062.9 L221.3,1064.5 L218.6,1065.7 L215.9,1066.6 L213.4,1067.1 L210.9,1067.2 L208.5,1067 L206.3,1066.3 L204.3,1065.4 L202.5,1064.1 L200.9,1062.4 L199.6,1060.4 L198.5,1058.2 L197.7,1055.6 L197.2,1052.9 L196.9,1049.9 L197,1046.7 L197.3,1043.4 L197.9,1040 L198.8,1036.6 L200,1033.1 L201.4,1029.6 L203,1026.2 L204.9,1022.8 L206.9,1019.6 L209.2,1016.6 L211.6,1013.8"/>
<path d="M218.2,997.8 L222.5,1000.4 V1012.2 L219.5,1014 Q214,1015.5 213.2,1016.5"/>
<path d="M222.5,995.2 V1007 L227.2,1009.6 Q231.8,1007 235.5,1002"/>
<path d="M220.8,1006.7 Q215.7,1008 217.4,1011.3 M233.5,999.9 Q228.5,1001 231,1004.5"/>
<path d="M236.5,1035.6 L230.2,1045.4 L239.5,1050.9 L235.2,1056.4 M236.5,1035.6 L245.4,1040.7 L248.8,1031.8"/>
<path d="M202.5,1057.7 L212.3,1063.2 L209.3,1069.2 M202.5,1057.7 L200.8,1060.6 L203.8,1065.7 L206.3,1060.6"/>
<path d="M242.9,1004.5 Q249.7,1009.6 250.5,1020.7 M210.6,1067 Q218.3,1066.6 225.9,1064.5 M194,1062 Q195.3,1066.6 197.8,1070.8"/>
<path d="M287.6,1047.6 Q281.5,1040 276.2,1040.1 Q263,1041.5 256.4,1056 Q251,1068 253.4,1075.2 Q256,1083 266,1084.2"/>
<path d="M281.6,1048.2 Q269,1048.5 263,1059 Q258.5,1069 262.4,1077.6 Q264,1079.5 266,1080"/>
<path d="M287,1048.2 Q276.8,1050.3 270.8,1059.6 Q264.5,1071 266.6,1084.2 Q268,1088 270.8,1088.6 L303.5,1105.5"/>
<path d="M273.2,1045.2 Q276.8,1042.8 281.6,1043.1 M257.3,1072.2 Q257.6,1077.6 259.1,1080.6"/>
<path d="M287.6,1047.6 Q292,1047.5 294.5,1049.5 L324.7,1067.2"/>
<path d="M324.7,1067.2 Q308.5,1075.7 303.1,1105.4 Q304.9,1116.2 313.9,1120.7"/>
<path d="M324.7,1067.2 Q332.8,1064 343.6,1070.75 L359.8,1075.25 Q369.7,1078.4 371.5,1091"/>
<path d="M342.7,1071.2 Q322,1077.5 313.9,1105.4 Q313,1116.2 317.5,1123.4 L325.6,1133.3 Q331,1137.8 340.9,1136.5"/>
<path d="M359.8,1082 Q340,1086.5 331,1105.4 Q327.4,1118 332.8,1127 Q335.5,1129.7 340,1129.7"/>
<path d="M356.2,1082.9 Q363.4,1082 367,1087.4 M356.2,1082.9 L374.2,1093.7"/>
<path d="M361.6,1091.9 Q349.4,1100 345.4,1116.2 L340,1127"/>
<path d="M348.1,1078.4 Q351.7,1076.6 356.2,1076.2"/>
<path d="M311.2,1110.8 Q312.1,1116.2 314.8,1119.8 M323.8,1119.8 Q324.7,1127 327.4,1131.5"/>
<path d="M374.2,1093.7 Q380.5,1091.9 385,1092.8"/>
<path d="M374.2,1093.7 Q359.8,1101.8 353.5,1119.8 Q350.8,1136 356.2,1145 Q361,1151 372.2,1154.3"/>
<path d="M374,1093.1 Q385.7,1090.4 396.5,1101.2"/>
<path d="M375.8,1099.4 Q381.2,1095.8 388.4,1094.9"/>
<path d="M389.3,1102.1 Q370.4,1110.2 366.8,1135.4 Q365,1148 372.2,1154.3"/>
<path d="M391.1,1103 Q402.8,1100.3 414.5,1114.7"/>
<path d="M390.2,1103.9 Q374.9,1114.7 372.2,1135.4 Q371.3,1153.4 379.4,1159.7 Q384.8,1163.3 389.3,1162.4"/>
<path d="M392,1108.9 Q396.5,1105.7 403.7,1103.9"/>
<path d="M403.7,1110.7 Q387.5,1116.5 382.1,1139 Q380.3,1153.4 387.5,1158.8"/>
<path d="M375.8,1148.9 Q376.7,1155 379.4,1159.7"/>
<path d="M414.5,1114.7 Q427.1,1112.9 437.9,1130.9"/>
<path d="M413.6,1115.6 Q399.2,1125.5 392,1146.2 Q389.3,1161.5 396.5,1167.8 Q402.8,1171.4 412.7,1173.2"/>
<path d="M416.3,1121 Q420.8,1118.3 428,1117.4"/>
<path d="M429.8,1126.4 Q411.8,1133.6 404.6,1148 Q401,1162.4 411.8,1172.3"/>
<path d="M395.6,1150.7 Q393.8,1158.8 396.5,1167.8"/>
<path d="M437,1131.8 Q453,1130.5 465.8,1136.2 Q472,1142.5 472,1149.7"/>
<path d="M437,1131.8 Q418.1,1145.2 414.5,1170.4 Q418.1,1184.8 426.2,1190.2 Q432.5,1195.6 446,1193.8"/>
<path d="M424.4,1178.5 Q425.3,1184.8 427.1,1190.2"/>
<path d="M448.7,1138 Q453.2,1135.3 457.7,1134.4"/>
<path d="M452.9,1202 L454.4,1202.7 L456,1203.2 L457.6,1203.6 L459.3,1203.8 L461.1,1203.8 L462.9,1203.6 L464.7,1203.3 L466.6,1202.8 L468.4,1202.2 L470.3,1201.3 L472.1,1200.4 L473.9,1199.2 L475.7,1198 L477.5,1196.6 L479.1,1195.1 L480.8,1193.4 L482.3,1191.7 L483.8,1189.9 L485.2,1188 L486.4,1186 L487.6,1183.9 L488.7,1181.9 L489.6,1179.8 L490.5,1177.6 L491.2,1175.5 L491.7,1173.4 L492.2,1171.3 L492.5,1169.3 L492.7,1167.3 L492.7,1165.3 L492.6,1163.5 L492.3,1161.7 L492,1160 L491.5,1158.5 L490.9,1157 L490.1,1155.7 L489.3,1154.5 L488.3,1153.5 L487.2,1152.6 L486.1,1151.9"/>
<path d="M455.3,1197.6 L456.5,1198.2 L457.9,1198.6 L459.3,1199 L460.7,1199.1 L462.2,1199.2 L463.7,1199 L465.3,1198.8 L466.8,1198.4 L468.4,1197.8 L469.9,1197.2 L471.5,1196.4 L473,1195.4 L474.5,1194.4 L476,1193.2 L477.4,1192 L478.8,1190.6 L480.1,1189.2 L481.4,1187.7 L482.5,1186.1 L483.6,1184.5 L484.6,1182.8 L485.5,1181.1 L486.3,1179.3 L487.1,1177.6 L487.7,1175.8 L488.2,1174.1 L488.5,1172.3 L488.8,1170.6 L489,1169 L489,1167.4 L489,1165.8 L488.8,1164.4 L488.5,1163 L488.1,1161.7 L487.6,1160.5 L487,1159.4 L486.3,1158.5 L485.5,1157.6 L484.7,1156.9 L483.7,1156.3"/>
<path d="M464,1208.4 L465.5,1209.1 L467.1,1209.6 L468.8,1210 L470.5,1210.2 L472.3,1210.3 L474.1,1210.1 L476,1209.8 L477.8,1209.3 L479.7,1208.7 L481.6,1207.9 L483.5,1206.9 L485.3,1205.8 L487.1,1204.6 L488.9,1203.2 L490.6,1201.7 L492.2,1200.1 L493.8,1198.3 L495.3,1196.5 L496.7,1194.6 L498,1192.7 L499.2,1190.6 L500.3,1188.6 L501.3,1186.5 L502.2,1184.4 L502.9,1182.3 L503.5,1180.2 L504,1178.1 L504.3,1176.1 L504.5,1174.1 L504.5,1172.2 L504.5,1170.3 L504.3,1168.6 L503.9,1166.9 L503.4,1165.4 L502.8,1163.9 L502.1,1162.6 L501.3,1161.5 L500.4,1160.5 L499.3,1159.6 L498.2,1158.9"/>
<path d="M466.3,1204 L467.6,1204.6 L469,1205.1 L470.4,1205.4 L471.9,1205.6 L473.4,1205.6 L474.9,1205.5 L476.5,1205.3 L478.1,1204.9 L479.7,1204.4 L481.3,1203.7 L482.8,1202.9 L484.4,1202 L485.9,1201 L487.4,1199.8 L488.9,1198.6 L490.3,1197.3 L491.6,1195.8 L492.9,1194.3 L494.1,1192.8 L495.2,1191.2 L496.2,1189.5 L497.2,1187.8 L498,1186.1 L498.7,1184.3 L499.4,1182.6 L499.9,1180.8 L500.3,1179.1 L500.6,1177.5 L500.8,1175.8 L500.9,1174.2 L500.8,1172.7 L500.7,1171.3 L500.4,1169.9 L500.1,1168.6 L499.6,1167.4 L499,1166.4 L498.4,1165.4 L497.6,1164.6 L496.8,1163.9 L495.8,1163.3"/>
<path d="M476.1,1215.4 L477.6,1216.1 L479.2,1216.6 L480.9,1217 L482.6,1217.2 L484.4,1217.3 L486.2,1217.1 L488.1,1216.8 L490,1216.3 L491.8,1215.7 L493.7,1214.9 L495.6,1213.9 L497.4,1212.8 L499.2,1211.6 L501,1210.2 L502.7,1208.7 L504.4,1207.1 L505.9,1205.3 L507.4,1203.5 L508.8,1201.6 L510.2,1199.7 L511.4,1197.6 L512.5,1195.6 L513.4,1193.5 L514.3,1191.4 L515,1189.3 L515.6,1187.2 L516.1,1185.1 L516.4,1183.1 L516.6,1181.1 L516.7,1179.2 L516.6,1177.3 L516.4,1175.6 L516,1173.9 L515.6,1172.4 L515,1170.9 L514.3,1169.6 L513.4,1168.5 L512.5,1167.5 L511.5,1166.6 L510.3,1165.9"/>
<path d="M478.4,1211 L479.7,1211.6 L481.1,1212.1 L482.5,1212.4 L484,1212.6 L485.5,1212.6 L487,1212.5 L488.6,1212.3 L490.2,1211.9 L491.8,1211.4 L493.4,1210.7 L495,1209.9 L496.5,1209 L498.1,1208 L499.6,1206.8 L501,1205.6 L502.4,1204.3 L503.7,1202.8 L505,1201.3 L506.2,1199.8 L507.3,1198.2 L508.4,1196.5 L509.3,1194.8 L510.1,1193.1 L510.9,1191.3 L511.5,1189.6 L512,1187.8 L512.4,1186.1 L512.7,1184.5 L512.9,1182.8 L513,1181.2 L513,1179.7 L512.8,1178.3 L512.6,1176.9 L512.2,1175.6 L511.7,1174.4 L511.2,1173.4 L510.5,1172.4 L509.7,1171.6 L508.9,1170.9 L508,1170.3"/>
<path d="M489.9,1223.4 L491.5,1224.1 L493.2,1224.7 L494.9,1225.1 L496.6,1225.3 L498.5,1225.4 L500.3,1225.3 L502.2,1225 L504.2,1224.5 L506.1,1223.9 L508,1223.1 L509.9,1222.2 L511.8,1221.1 L513.7,1219.9 L515.5,1218.5 L517.2,1217.1 L518.9,1215.5 L520.5,1213.8 L522.1,1212 L523.5,1210.1 L524.9,1208.2 L526.1,1206.2 L527.3,1204.1 L528.3,1202.1 L529.2,1200 L529.9,1197.9 L530.6,1195.8 L531.1,1193.8 L531.5,1191.8 L531.7,1189.8 L531.8,1187.9 L531.8,1186.1 L531.6,1184.4 L531.3,1182.7 L530.9,1181.2 L530.3,1179.8 L529.7,1178.5 L528.9,1177.4 L528,1176.4 L527,1175.6 L525.9,1174.9"/>
<path d="M492.3,1219 L493.6,1219.6 L495,1220.1 L496.5,1220.5 L498,1220.7 L499.6,1220.7 L501.2,1220.7 L502.8,1220.4 L504.4,1220.1 L506,1219.6 L507.7,1218.9 L509.3,1218.2 L510.9,1217.3 L512.5,1216.3 L514,1215.2 L515.5,1214 L517,1212.7 L518.3,1211.3 L519.7,1209.8 L520.9,1208.3 L522.1,1206.7 L523.1,1205 L524.1,1203.3 L525,1201.6 L525.8,1199.9 L526.4,1198.2 L527,1196.5 L527.5,1194.8 L527.8,1193.2 L528,1191.5 L528.2,1190 L528.2,1188.5 L528.1,1187.1 L527.8,1185.7 L527.5,1184.5 L527.1,1183.3 L526.6,1182.3 L525.9,1181.4 L525.2,1180.5 L524.4,1179.9 L523.6,1179.3"/>
<path d="M505.5,1232.4 L507.1,1233.1 L508.7,1233.7 L510.5,1234.1 L512.2,1234.3 L514.1,1234.4 L515.9,1234.3 L517.8,1234 L519.7,1233.5 L521.7,1232.9 L523.6,1232.1 L525.5,1231.2 L527.4,1230.1 L529.2,1228.9 L531.1,1227.5 L532.8,1226.1 L534.5,1224.5 L536.1,1222.8 L537.7,1221 L539.1,1219.1 L540.5,1217.2 L541.7,1215.2 L542.8,1213.1 L543.9,1211.1 L544.8,1209 L545.5,1206.9 L546.2,1204.8 L546.7,1202.8 L547.1,1200.8 L547.3,1198.8 L547.4,1196.9 L547.4,1195.1 L547.2,1193.4 L546.9,1191.7 L546.5,1190.2 L545.9,1188.8 L545.3,1187.5 L544.5,1186.4 L543.6,1185.4 L542.6,1184.6 L541.5,1183.9"/>
<path d="M507.9,1228 L509.2,1228.6 L510.6,1229.1 L512.1,1229.5 L513.6,1229.7 L515.2,1229.7 L516.7,1229.7 L518.4,1229.4 L520,1229.1 L521.6,1228.6 L523.3,1227.9 L524.9,1227.2 L526.5,1226.3 L528.1,1225.3 L529.6,1224.2 L531.1,1223 L532.5,1221.7 L533.9,1220.3 L535.2,1218.8 L536.5,1217.3 L537.6,1215.7 L538.7,1214 L539.7,1212.3 L540.6,1210.6 L541.4,1208.9 L542,1207.2 L542.6,1205.5 L543.1,1203.8 L543.4,1202.2 L543.6,1200.5 L543.7,1199 L543.8,1197.5 L543.6,1196.1 L543.4,1194.7 L543.1,1193.5 L542.7,1192.3 L542.2,1191.3 L541.5,1190.4 L540.8,1189.5 L540,1188.9 L539.1,1188.3"/>
<path d="M520.5,1241 L522,1241.7 L523.7,1242.3 L525.4,1242.7 L527.1,1242.9 L528.9,1243 L530.8,1242.8 L532.7,1242.5 L534.6,1242.1 L536.5,1241.4 L538.4,1240.7 L540.3,1239.7 L542.1,1238.6 L544,1237.4 L545.8,1236 L547.5,1234.5 L549.2,1232.9 L550.8,1231.2 L552.3,1229.4 L553.7,1227.5 L555.1,1225.6 L556.3,1223.6 L557.4,1221.6 L558.4,1219.5 L559.3,1217.4 L560.1,1215.3 L560.7,1213.2 L561.2,1211.2 L561.5,1209.1 L561.8,1207.2 L561.9,1205.3 L561.8,1203.4 L561.6,1201.7 L561.3,1200.1 L560.9,1198.5 L560.3,1197.1 L559.6,1195.8 L558.8,1194.7 L557.9,1193.7 L556.9,1192.8 L555.8,1192.2"/>
<path d="M522.8,1236.6 L524.1,1237.2 L525.5,1237.7 L527,1238.1 L528.5,1238.3 L530,1238.3 L531.6,1238.2 L533.2,1238 L534.8,1237.6 L536.4,1237.1 L538,1236.5 L539.6,1235.7 L541.2,1234.8 L542.8,1233.8 L544.3,1232.7 L545.8,1231.5 L547.2,1230.1 L548.6,1228.7 L549.9,1227.3 L551.1,1225.7 L552.3,1224.1 L553.3,1222.4 L554.3,1220.8 L555.1,1219 L555.9,1217.3 L556.6,1215.6 L557.1,1213.9 L557.6,1212.2 L557.9,1210.5 L558.1,1208.9 L558.2,1207.3 L558.2,1205.8 L558.1,1204.4 L557.8,1203 L557.5,1201.8 L557.1,1200.6 L556.5,1199.6 L555.9,1198.6 L555.1,1197.8 L554.3,1197.1 L553.4,1196.6"/>
<path d="M534.8,1249.3 L536.3,1250 L537.9,1250.6 L539.6,1250.9 L541.4,1251.2 L543.2,1251.2 L545.1,1251.1 L546.9,1250.8 L548.8,1250.3 L550.7,1249.7 L552.7,1248.9 L554.6,1248 L556.4,1246.9 L558.3,1245.6 L560.1,1244.3 L561.8,1242.8 L563.5,1241.2 L565.1,1239.5 L566.6,1237.7 L568,1235.8 L569.4,1233.9 L570.6,1231.8 L571.7,1229.8 L572.7,1227.7 L573.6,1225.6 L574.4,1223.5 L575,1221.5 L575.5,1219.4 L575.8,1217.4 L576.1,1215.4 L576.1,1213.5 L576.1,1211.7 L575.9,1209.9 L575.6,1208.3 L575.2,1206.8 L574.6,1205.4 L573.9,1204.1 L573.1,1202.9 L572.2,1201.9 L571.2,1201.1 L570.1,1200.4"/>
<path d="M537.1,1244.8 L538.4,1245.5 L539.8,1246 L541.3,1246.3 L542.8,1246.5 L544.3,1246.6 L545.9,1246.5 L547.5,1246.2 L549.1,1245.9 L550.7,1245.4 L552.3,1244.7 L553.9,1244 L555.5,1243.1 L557.1,1242.1 L558.6,1240.9 L560.1,1239.7 L561.5,1238.4 L562.9,1237 L564.2,1235.5 L565.4,1234 L566.5,1232.3 L567.6,1230.7 L568.6,1229 L569.4,1227.3 L570.2,1225.6 L570.9,1223.8 L571.4,1222.1 L571.8,1220.4 L572.2,1218.8 L572.4,1217.1 L572.5,1215.6 L572.5,1214.1 L572.4,1212.6 L572.1,1211.3 L571.8,1210 L571.3,1208.9 L570.8,1207.8 L570.2,1206.9 L569.4,1206.1 L568.6,1205.4 L567.7,1204.8"/>
<path d="M548.8,1257.4 L550.4,1258.1 L552,1258.7 L553.7,1259.1 L555.5,1259.3 L557.3,1259.3 L559.1,1259.2 L561,1258.9 L562.9,1258.4 L564.8,1257.8 L566.7,1257 L568.6,1256.1 L570.4,1255 L572.3,1253.7 L574,1252.4 L575.8,1250.9 L577.5,1249.3 L579.1,1247.5 L580.6,1245.7 L582,1243.9 L583.3,1241.9 L584.6,1239.9 L585.7,1237.9 L586.7,1235.8 L587.5,1233.7 L588.3,1231.6 L588.9,1229.5 L589.4,1227.4 L589.8,1225.4 L590,1223.5 L590.1,1221.5 L590,1219.7 L589.8,1218 L589.5,1216.3 L589,1214.8 L588.5,1213.4 L587.8,1212.1 L587,1210.9 L586.1,1209.9 L585,1209.1 L583.9,1208.4"/>
<path d="M551.2,1253 L552.5,1253.6 L553.9,1254.1 L555.3,1254.4 L556.8,1254.6 L558.3,1254.7 L559.9,1254.6 L561.5,1254.3 L563.1,1254 L564.7,1253.5 L566.3,1252.8 L567.9,1252 L569.5,1251.2 L571.1,1250.1 L572.6,1249 L574.1,1247.8 L575.5,1246.5 L576.9,1245.1 L578.1,1243.6 L579.4,1242 L580.5,1240.4 L581.6,1238.8 L582.5,1237.1 L583.4,1235.4 L584.1,1233.6 L584.8,1231.9 L585.3,1230.2 L585.8,1228.5 L586.1,1226.8 L586.3,1225.2 L586.4,1223.6 L586.4,1222.1 L586.3,1220.7 L586,1219.3 L585.7,1218 L585.2,1216.9 L584.7,1215.8 L584,1214.9 L583.3,1214.1 L582.5,1213.4 L581.6,1212.8"/>
<path d="M562.8,1265.5 L564.4,1266.2 L566,1266.8 L567.7,1267.1 L569.4,1267.4 L571.3,1267.4 L573.1,1267.3 L575,1267 L576.9,1266.5 L578.8,1265.9 L580.7,1265.1 L582.6,1264.2 L584.5,1263.1 L586.3,1261.8 L588.1,1260.5 L589.8,1259 L591.5,1257.4 L593.1,1255.7 L594.6,1253.9 L596,1252 L597.4,1250 L598.6,1248 L599.7,1246 L600.7,1243.9 L601.6,1241.8 L602.4,1239.7 L603,1237.6 L603.5,1235.6 L603.8,1233.6 L604.1,1231.6 L604.1,1229.7 L604.1,1227.8 L603.9,1226.1 L603.6,1224.5 L603.1,1222.9 L602.6,1221.5 L601.9,1220.2 L601.1,1219.1 L600.2,1218.1 L599.2,1217.2 L598,1216.6"/>
<path d="M565.2,1261 L566.5,1261.7 L567.9,1262.2 L569.3,1262.5 L570.8,1262.7 L572.3,1262.8 L573.9,1262.7 L575.5,1262.4 L577.1,1262.1 L578.7,1261.6 L580.4,1260.9 L582,1260.1 L583.5,1259.2 L585.1,1258.2 L586.6,1257.1 L588.1,1255.9 L589.5,1254.6 L590.9,1253.2 L592.2,1251.7 L593.4,1250.1 L594.6,1248.5 L595.6,1246.9 L596.6,1245.2 L597.4,1243.5 L598.2,1241.7 L598.9,1240 L599.4,1238.3 L599.8,1236.6 L600.2,1234.9 L600.4,1233.3 L600.5,1231.7 L600.5,1230.2 L600.3,1228.8 L600.1,1227.4 L599.8,1226.2 L599.3,1225 L598.8,1224 L598.1,1223 L597.4,1222.2 L596.6,1221.5 L595.7,1221"/>
<path d="M467,1140.9 L465.8,1140.4 L464.4,1140 L463,1139.7 L461.5,1139.7 L460,1139.8 L458.5,1140.1 L456.9,1140.6 L455.3,1141.2 L453.7,1142 L452,1143 L450.4,1144.1 L448.9,1145.3 L447.3,1146.7 L445.8,1148.3 L444.4,1149.9 L443,1151.7 L441.7,1153.6 L440.4,1155.5 L439.3,1157.6 L438.3,1159.7 L437.3,1161.9 L436.5,1164.1 L435.8,1166.3 L435.2,1168.6 L434.7,1170.8 L434.4,1173.1 L434.2,1175.3 L434.1,1177.5 L434.2,1179.7 L434.4,1181.7 L434.7,1183.7 L435.2,1185.6 L435.8,1187.4 L436.6,1189.1 L437.4,1190.7 L438.4,1192.2 L439.5,1193.5 L440.7,1194.6 L442,1195.7 L443.4,1196.5 L441.2,1189.5 L440.2,1188.9 L439.4,1188.2 L438.6,1187.3 L437.9,1186.3 L437.3,1185.2 L436.7,1184.1 L436.3,1182.8 L436,1181.4 L435.9,1179.9 L435.8,1178.4 L435.8,1176.7 L436,1175.1 L436.2,1173.4 L436.6,1171.6 L437.1,1169.9 L437.7,1168.1 L438.4,1166.4 L439.2,1164.6 L440.1,1162.9 L441.1,1161.2 L442.2,1159.6 L443.3,1158 L444.5,1156.5 L445.9,1155 L447.2,1153.7 L448.6,1152.4 L450.1,1151.2 L451.6,1150.2 L453.1,1149.3 L454.7,1148.4 L456.2,1147.8 L457.8,1147.2 L459.3,1146.8 L460.8,1146.6 L462.3,1146.4 L463.8,1146.4 L465.3,1146.6 L466.6,1146.9 L468,1147.4 L469.2,1148 Z" fill="#fff" stroke="none"/>
<path d="M467,1140.9 L465.8,1140.4 L464.4,1140 L463,1139.7 L461.5,1139.7 L460,1139.8 L458.5,1140.1 L456.9,1140.6 L455.3,1141.2 L453.7,1142 L452,1143 L450.4,1144.1 L448.9,1145.3 L447.3,1146.7 L445.8,1148.3 L444.4,1149.9 L443,1151.7 L441.7,1153.6 L440.4,1155.5 L439.3,1157.6 L438.3,1159.7 L437.3,1161.9 L436.5,1164.1 L435.8,1166.3 L435.2,1168.6 L434.7,1170.8 L434.4,1173.1 L434.2,1175.3 L434.1,1177.5 L434.2,1179.7 L434.4,1181.7 L434.7,1183.7 L435.2,1185.6 L435.8,1187.4 L436.6,1189.1 L437.4,1190.7 L438.4,1192.2 L439.5,1193.5 L440.7,1194.6 L442,1195.7 L443.4,1196.5"/>
<path d="M441.2,1189.5 L440.2,1188.9 L439.4,1188.2 L438.6,1187.3 L437.9,1186.3 L437.3,1185.2 L436.7,1184.1 L436.3,1182.8 L436,1181.4 L435.9,1179.9 L435.8,1178.4 L435.8,1176.7 L436,1175.1 L436.2,1173.4 L436.6,1171.6 L437.1,1169.9 L437.7,1168.1 L438.4,1166.4 L439.2,1164.6 L440.1,1162.9 L441.1,1161.2 L442.2,1159.6 L443.3,1158 L444.5,1156.5 L445.9,1155 L447.2,1153.7 L448.6,1152.4 L450.1,1151.2 L451.6,1150.2 L453.1,1149.3 L454.7,1148.4 L456.2,1147.8 L457.8,1147.2 L459.3,1146.8 L460.8,1146.6 L462.3,1146.4 L463.8,1146.4 L465.3,1146.6 L466.6,1146.9 L468,1147.4 L469.2,1148"/>
<path d="M476.1,1146.2 L474.9,1145.6 L473.5,1145.2 L472.1,1145 L470.7,1145 L469.2,1145.1 L467.6,1145.4 L466,1145.9 L464.5,1146.5 L462.8,1147.3 L461.2,1148.3 L459.7,1149.4 L458.1,1150.7 L456.5,1152.1 L455.1,1153.6 L453.6,1155.3 L452.2,1157 L450.9,1158.9 L449.7,1160.9 L448.6,1163 L447.6,1165.1 L446.6,1167.3 L445.8,1169.5 L445.1,1171.7 L444.5,1174 L444.1,1176.3 L443.8,1178.5 L443.6,1180.7 L443.5,1182.9 L443.6,1185.1 L443.8,1187.2 L444.2,1189.2 L444.6,1191.1 L445.3,1192.9 L446,1194.6 L446.9,1196.2 L447.9,1197.6 L449,1199 L450.2,1200.1 L451.5,1201.2 L452.9,1202 L450.3,1194.7 L449.3,1194.1 L448.5,1193.4 L447.7,1192.6 L447,1191.6 L446.4,1190.5 L445.9,1189.3 L445.5,1188 L445.2,1186.7 L445,1185.2 L445,1183.7 L445,1182.1 L445.2,1180.4 L445.5,1178.7 L445.9,1177 L446.3,1175.2 L447,1173.5 L447.7,1171.7 L448.5,1170 L449.4,1168.3 L450.4,1166.6 L451.5,1164.9 L452.6,1163.4 L453.9,1161.8 L455.2,1160.4 L456.6,1159.1 L458,1157.8 L459.5,1156.7 L461,1155.6 L462.5,1154.7 L464.1,1153.9 L465.6,1153.2 L467.2,1152.7 L468.8,1152.3 L470.3,1152 L471.8,1151.9 L473.3,1151.9 L474.7,1152.1 L476.1,1152.4 L477.5,1152.9 L478.7,1153.5 Z" fill="#fff" stroke="none"/>
<path d="M476.1,1146.2 L474.9,1145.6 L473.5,1145.2 L472.1,1145 L470.7,1145 L469.2,1145.1 L467.6,1145.4 L466,1145.9 L464.5,1146.5 L462.8,1147.3 L461.2,1148.3 L459.7,1149.4 L458.1,1150.7 L456.5,1152.1 L455.1,1153.6 L453.6,1155.3 L452.2,1157 L450.9,1158.9 L449.7,1160.9 L448.6,1163 L447.6,1165.1 L446.6,1167.3 L445.8,1169.5 L445.1,1171.7 L444.5,1174 L444.1,1176.3 L443.8,1178.5 L443.6,1180.7 L443.5,1182.9 L443.6,1185.1 L443.8,1187.2 L444.2,1189.2 L444.6,1191.1 L445.3,1192.9 L446,1194.6 L446.9,1196.2 L447.9,1197.6 L449,1199 L450.2,1200.1 L451.5,1201.2 L452.9,1202"/>
<path d="M450.3,1194.7 L449.3,1194.1 L448.5,1193.4 L447.7,1192.6 L447,1191.6 L446.4,1190.5 L445.9,1189.3 L445.5,1188 L445.2,1186.7 L445,1185.2 L445,1183.7 L445,1182.1 L445.2,1180.4 L445.5,1178.7 L445.9,1177 L446.3,1175.2 L447,1173.5 L447.7,1171.7 L448.5,1170 L449.4,1168.3 L450.4,1166.6 L451.5,1164.9 L452.6,1163.4 L453.9,1161.8 L455.2,1160.4 L456.6,1159.1 L458,1157.8 L459.5,1156.7 L461,1155.6 L462.5,1154.7 L464.1,1153.9 L465.6,1153.2 L467.2,1152.7 L468.8,1152.3 L470.3,1152 L471.8,1151.9 L473.3,1151.9 L474.7,1152.1 L476.1,1152.4 L477.5,1152.9 L478.7,1153.5"/>
<path d="M486.1,1151.9 L484.8,1151.4 L483.5,1151 L482.2,1150.8 L480.7,1150.8 L479.3,1150.9 L477.7,1151.2 L476.2,1151.7 L474.6,1152.4 L473,1153.2 L471.5,1154.2 L469.9,1155.3 L468.4,1156.6 L466.9,1158 L465.4,1159.6 L464,1161.2 L462.6,1163 L461.4,1164.9 L460.2,1166.9 L459.1,1169 L458.1,1171.1 L457.2,1173.3 L456.4,1175.6 L455.7,1177.8 L455.1,1180.1 L454.7,1182.4 L454.4,1184.7 L454.3,1186.9 L454.2,1189.1 L454.3,1191.3 L454.6,1193.4 L455,1195.4 L455.5,1197.3 L456.1,1199.2 L456.9,1200.9 L457.8,1202.5 L458.8,1204 L459.9,1205.3 L461.2,1206.5 L462.5,1207.5 L464,1208.4 L460.2,1200.5 L459.3,1199.9 L458.5,1199.2 L457.7,1198.4 L457.1,1197.4 L456.5,1196.4 L456,1195.2 L455.7,1193.9 L455.4,1192.5 L455.2,1191.1 L455.2,1189.6 L455.3,1188 L455.5,1186.3 L455.8,1184.7 L456.2,1183 L456.7,1181.2 L457.3,1179.5 L458.1,1177.7 L458.9,1176 L459.9,1174.3 L460.9,1172.6 L462,1171 L463.2,1169.5 L464.5,1168 L465.8,1166.5 L467.2,1165.2 L468.7,1164 L470.2,1162.8 L471.7,1161.8 L473.3,1160.9 L474.8,1160.1 L476.4,1159.4 L478,1158.9 L479.6,1158.5 L481.2,1158.3 L482.7,1158.2 L484.2,1158.2 L485.7,1158.4 L487.1,1158.7 L488.5,1159.2 L489.8,1159.8 Z" fill="#fff" stroke="none"/>
<path d="M486.1,1151.9 L484.8,1151.4 L483.5,1151 L482.2,1150.8 L480.7,1150.8 L479.3,1150.9 L477.7,1151.2 L476.2,1151.7 L474.6,1152.4 L473,1153.2 L471.5,1154.2 L469.9,1155.3 L468.4,1156.6 L466.9,1158 L465.4,1159.6 L464,1161.2 L462.6,1163 L461.4,1164.9 L460.2,1166.9 L459.1,1169 L458.1,1171.1 L457.2,1173.3 L456.4,1175.6 L455.7,1177.8 L455.1,1180.1 L454.7,1182.4 L454.4,1184.7 L454.3,1186.9 L454.2,1189.1 L454.3,1191.3 L454.6,1193.4 L455,1195.4 L455.5,1197.3 L456.1,1199.2 L456.9,1200.9 L457.8,1202.5 L458.8,1204 L459.9,1205.3 L461.2,1206.5 L462.5,1207.5 L464,1208.4"/>
<path d="M460.2,1200.5 L459.3,1199.9 L458.5,1199.2 L457.7,1198.4 L457.1,1197.4 L456.5,1196.4 L456,1195.2 L455.7,1193.9 L455.4,1192.5 L455.2,1191.1 L455.2,1189.6 L455.3,1188 L455.5,1186.3 L455.8,1184.7 L456.2,1183 L456.7,1181.2 L457.3,1179.5 L458.1,1177.7 L458.9,1176 L459.9,1174.3 L460.9,1172.6 L462,1171 L463.2,1169.5 L464.5,1168 L465.8,1166.5 L467.2,1165.2 L468.7,1164 L470.2,1162.8 L471.7,1161.8 L473.3,1160.9 L474.8,1160.1 L476.4,1159.4 L478,1158.9 L479.6,1158.5 L481.2,1158.3 L482.7,1158.2 L484.2,1158.2 L485.7,1158.4 L487.1,1158.7 L488.5,1159.2 L489.8,1159.8"/>
<path d="M498.2,1158.9 L497,1158.4 L495.7,1158 L494.3,1157.8 L492.9,1157.8 L491.4,1157.9 L489.9,1158.2 L488.3,1158.7 L486.8,1159.4 L485.2,1160.2 L483.6,1161.2 L482,1162.3 L480.5,1163.6 L479,1165 L477.5,1166.6 L476.1,1168.2 L474.8,1170 L473.5,1171.9 L472.3,1173.9 L471.2,1176 L470.2,1178.1 L469.3,1180.3 L468.5,1182.6 L467.8,1184.8 L467.3,1187.1 L466.8,1189.4 L466.5,1191.7 L466.4,1193.9 L466.4,1196.1 L466.5,1198.3 L466.7,1200.4 L467.1,1202.4 L467.6,1204.3 L468.2,1206.2 L469,1207.9 L469.9,1209.5 L470.9,1211 L472.1,1212.3 L473.3,1213.5 L474.6,1214.5 L476.1,1215.4 L472.4,1207.5 L471.5,1206.9 L470.6,1206.2 L469.9,1205.4 L469.2,1204.4 L468.6,1203.4 L468.1,1202.2 L467.8,1200.9 L467.5,1199.5 L467.4,1198.1 L467.3,1196.6 L467.4,1195 L467.6,1193.3 L467.9,1191.7 L468.3,1190 L468.8,1188.2 L469.5,1186.5 L470.2,1184.7 L471,1183 L472,1181.3 L473,1179.6 L474.1,1178 L475.3,1176.5 L476.6,1175 L477.9,1173.5 L479.3,1172.2 L480.8,1171 L482.3,1169.8 L483.8,1168.8 L485.4,1167.9 L487,1167.1 L488.6,1166.4 L490.1,1165.9 L491.7,1165.5 L493.3,1165.3 L494.8,1165.2 L496.4,1165.2 L497.8,1165.4 L499.2,1165.7 L500.6,1166.2 L501.9,1166.8 Z" fill="#fff" stroke="none"/>
<path d="M498.2,1158.9 L497,1158.4 L495.7,1158 L494.3,1157.8 L492.9,1157.8 L491.4,1157.9 L489.9,1158.2 L488.3,1158.7 L486.8,1159.4 L485.2,1160.2 L483.6,1161.2 L482,1162.3 L480.5,1163.6 L479,1165 L477.5,1166.6 L476.1,1168.2 L474.8,1170 L473.5,1171.9 L472.3,1173.9 L471.2,1176 L470.2,1178.1 L469.3,1180.3 L468.5,1182.6 L467.8,1184.8 L467.3,1187.1 L466.8,1189.4 L466.5,1191.7 L466.4,1193.9 L466.4,1196.1 L466.5,1198.3 L466.7,1200.4 L467.1,1202.4 L467.6,1204.3 L468.2,1206.2 L469,1207.9 L469.9,1209.5 L470.9,1211 L472.1,1212.3 L473.3,1213.5 L474.6,1214.5 L476.1,1215.4"/>
<path d="M472.4,1207.5 L471.5,1206.9 L470.6,1206.2 L469.9,1205.4 L469.2,1204.4 L468.6,1203.4 L468.1,1202.2 L467.8,1200.9 L467.5,1199.5 L467.4,1198.1 L467.3,1196.6 L467.4,1195 L467.6,1193.3 L467.9,1191.7 L468.3,1190 L468.8,1188.2 L469.5,1186.5 L470.2,1184.7 L471,1183 L472,1181.3 L473,1179.6 L474.1,1178 L475.3,1176.5 L476.6,1175 L477.9,1173.5 L479.3,1172.2 L480.8,1171 L482.3,1169.8 L483.8,1168.8 L485.4,1167.9 L487,1167.1 L488.6,1166.4 L490.1,1165.9 L491.7,1165.5 L493.3,1165.3 L494.8,1165.2 L496.4,1165.2 L497.8,1165.4 L499.2,1165.7 L500.6,1166.2 L501.9,1166.8"/>
<path d="M510.3,1165.9 L509.1,1165.4 L507.9,1165.1 L506.6,1164.9 L505.2,1164.9 L503.7,1165 L502.3,1165.4 L500.7,1165.9 L499.2,1166.6 L497.7,1167.4 L496.2,1168.4 L494.6,1169.6 L493.1,1170.9 L491.7,1172.3 L490.2,1173.9 L488.9,1175.6 L487.6,1177.4 L486.3,1179.4 L485.2,1181.4 L484.1,1183.5 L483.2,1185.6 L482.3,1187.9 L481.6,1190.1 L480.9,1192.4 L480.4,1194.7 L480.1,1197 L479.8,1199.3 L479.7,1201.6 L479.7,1203.8 L479.8,1206 L480.1,1208.1 L480.6,1210.2 L481.1,1212.1 L481.8,1214 L482.6,1215.7 L483.6,1217.4 L484.6,1218.9 L485.8,1220.2 L487.1,1221.4 L488.5,1222.5 L489.9,1223.4 L484.5,1214.5 L483.6,1213.9 L482.8,1213.3 L482.1,1212.4 L481.5,1211.5 L481,1210.5 L480.5,1209.3 L480.2,1208.1 L480,1206.7 L479.9,1205.3 L479.9,1203.8 L480,1202.3 L480.2,1200.6 L480.6,1199 L481,1197.3 L481.6,1195.6 L482.3,1193.9 L483.1,1192.2 L484,1190.5 L484.9,1188.8 L486,1187.1 L487.2,1185.5 L488.4,1184 L489.7,1182.5 L491.1,1181.1 L492.5,1179.8 L494,1178.6 L495.6,1177.5 L497.2,1176.5 L498.8,1175.6 L500.4,1174.9 L502,1174.2 L503.7,1173.7 L505.3,1173.4 L506.9,1173.1 L508.5,1173.1 L510,1173.1 L511.6,1173.3 L513,1173.7 L514.4,1174.2 L515.8,1174.8 Z" fill="#fff" stroke="none"/>
<path d="M510.3,1165.9 L509.1,1165.4 L507.9,1165.1 L506.6,1164.9 L505.2,1164.9 L503.7,1165 L502.3,1165.4 L500.7,1165.9 L499.2,1166.6 L497.7,1167.4 L496.2,1168.4 L494.6,1169.6 L493.1,1170.9 L491.7,1172.3 L490.2,1173.9 L488.9,1175.6 L487.6,1177.4 L486.3,1179.4 L485.2,1181.4 L484.1,1183.5 L483.2,1185.6 L482.3,1187.9 L481.6,1190.1 L480.9,1192.4 L480.4,1194.7 L480.1,1197 L479.8,1199.3 L479.7,1201.6 L479.7,1203.8 L479.8,1206 L480.1,1208.1 L480.6,1210.2 L481.1,1212.1 L481.8,1214 L482.6,1215.7 L483.6,1217.4 L484.6,1218.9 L485.8,1220.2 L487.1,1221.4 L488.5,1222.5 L489.9,1223.4"/>
<path d="M484.5,1214.5 L483.6,1213.9 L482.8,1213.3 L482.1,1212.4 L481.5,1211.5 L481,1210.5 L480.5,1209.3 L480.2,1208.1 L480,1206.7 L479.9,1205.3 L479.9,1203.8 L480,1202.3 L480.2,1200.6 L480.6,1199 L481,1197.3 L481.6,1195.6 L482.3,1193.9 L483.1,1192.2 L484,1190.5 L484.9,1188.8 L486,1187.1 L487.2,1185.5 L488.4,1184 L489.7,1182.5 L491.1,1181.1 L492.5,1179.8 L494,1178.6 L495.6,1177.5 L497.2,1176.5 L498.8,1175.6 L500.4,1174.9 L502,1174.2 L503.7,1173.7 L505.3,1173.4 L506.9,1173.1 L508.5,1173.1 L510,1173.1 L511.6,1173.3 L513,1173.7 L514.4,1174.2 L515.8,1174.8"/>
<path d="M525.9,1174.9 L524.7,1174.4 L523.5,1174.1 L522.1,1173.9 L520.8,1173.9 L519.3,1174 L517.8,1174.4 L516.3,1174.9 L514.8,1175.6 L513.3,1176.4 L511.7,1177.4 L510.2,1178.6 L508.7,1179.9 L507.3,1181.3 L505.8,1182.9 L504.5,1184.6 L503.2,1186.4 L501.9,1188.4 L500.8,1190.4 L499.7,1192.5 L498.8,1194.6 L497.9,1196.9 L497.2,1199.1 L496.5,1201.4 L496,1203.7 L495.6,1206 L495.4,1208.3 L495.3,1210.6 L495.3,1212.8 L495.4,1215 L495.7,1217.1 L496.1,1219.2 L496.7,1221.1 L497.4,1223 L498.2,1224.7 L499.1,1226.4 L500.2,1227.9 L501.4,1229.2 L502.7,1230.4 L504,1231.5 L505.5,1232.4 L500.1,1223.5 L499.2,1222.9 L498.4,1222.3 L497.7,1221.4 L497.1,1220.5 L496.5,1219.5 L496.1,1218.3 L495.8,1217.1 L495.6,1215.7 L495.5,1214.3 L495.5,1212.8 L495.6,1211.3 L495.8,1209.6 L496.2,1208 L496.6,1206.3 L497.2,1204.6 L497.9,1202.9 L498.7,1201.2 L499.5,1199.5 L500.5,1197.8 L501.6,1196.1 L502.7,1194.5 L504,1193 L505.3,1191.5 L506.7,1190.1 L508.1,1188.8 L509.6,1187.6 L511.2,1186.5 L512.7,1185.5 L514.4,1184.6 L516,1183.9 L517.6,1183.2 L519.2,1182.7 L520.9,1182.4 L522.5,1182.1 L524.1,1182.1 L525.6,1182.1 L527.1,1182.3 L528.6,1182.7 L530,1183.2 L531.4,1183.8 Z" fill="#fff" stroke="none"/>
<path d="M525.9,1174.9 L524.7,1174.4 L523.5,1174.1 L522.1,1173.9 L520.8,1173.9 L519.3,1174 L517.8,1174.4 L516.3,1174.9 L514.8,1175.6 L513.3,1176.4 L511.7,1177.4 L510.2,1178.6 L508.7,1179.9 L507.3,1181.3 L505.8,1182.9 L504.5,1184.6 L503.2,1186.4 L501.9,1188.4 L500.8,1190.4 L499.7,1192.5 L498.8,1194.6 L497.9,1196.9 L497.2,1199.1 L496.5,1201.4 L496,1203.7 L495.6,1206 L495.4,1208.3 L495.3,1210.6 L495.3,1212.8 L495.4,1215 L495.7,1217.1 L496.1,1219.2 L496.7,1221.1 L497.4,1223 L498.2,1224.7 L499.1,1226.4 L500.2,1227.9 L501.4,1229.2 L502.7,1230.4 L504,1231.5 L505.5,1232.4"/>
<path d="M500.1,1223.5 L499.2,1222.9 L498.4,1222.3 L497.7,1221.4 L497.1,1220.5 L496.5,1219.5 L496.1,1218.3 L495.8,1217.1 L495.6,1215.7 L495.5,1214.3 L495.5,1212.8 L495.6,1211.3 L495.8,1209.6 L496.2,1208 L496.6,1206.3 L497.2,1204.6 L497.9,1202.9 L498.7,1201.2 L499.5,1199.5 L500.5,1197.8 L501.6,1196.1 L502.7,1194.5 L504,1193 L505.3,1191.5 L506.7,1190.1 L508.1,1188.8 L509.6,1187.6 L511.2,1186.5 L512.7,1185.5 L514.4,1184.6 L516,1183.9 L517.6,1183.2 L519.2,1182.7 L520.9,1182.4 L522.5,1182.1 L524.1,1182.1 L525.6,1182.1 L527.1,1182.3 L528.6,1182.7 L530,1183.2 L531.4,1183.8"/>
<path d="M541.5,1183.9 L540.3,1183.4 L539,1183 L537.7,1182.8 L536.3,1182.8 L534.8,1183 L533.3,1183.3 L531.8,1183.8 L530.3,1184.5 L528.7,1185.3 L527.2,1186.3 L525.6,1187.5 L524.1,1188.8 L522.6,1190.2 L521.2,1191.8 L519.8,1193.5 L518.5,1195.3 L517.2,1197.2 L516.1,1199.2 L515,1201.3 L514,1203.4 L513.2,1205.7 L512.4,1207.9 L511.7,1210.2 L511.2,1212.5 L510.8,1214.8 L510.6,1217.1 L510.4,1219.3 L510.4,1221.6 L510.5,1223.7 L510.8,1225.9 L511.2,1227.9 L511.8,1229.8 L512.4,1231.7 L513.2,1233.4 L514.2,1235 L515.2,1236.5 L516.4,1237.9 L517.6,1239.1 L519,1240.1 L520.5,1241 L515.7,1232.5 L514.8,1231.9 L514,1231.2 L513.2,1230.4 L512.6,1229.5 L512.1,1228.4 L511.6,1227.3 L511.3,1226 L511,1224.7 L510.9,1223.2 L510.9,1221.7 L511,1220.2 L511.2,1218.5 L511.6,1216.9 L512,1215.2 L512.5,1213.5 L513.2,1211.7 L514,1210 L514.8,1208.3 L515.8,1206.6 L516.9,1205 L518,1203.3 L519.2,1201.8 L520.5,1200.3 L521.9,1198.9 L523.3,1197.6 L524.8,1196.4 L526.3,1195.2 L527.9,1194.2 L529.5,1193.3 L531.1,1192.6 L532.7,1191.9 L534.3,1191.4 L535.9,1191.1 L537.5,1190.8 L539.1,1190.7 L540.6,1190.8 L542.1,1191 L543.6,1191.3 L545,1191.8 L546.3,1192.5 Z" fill="#fff" stroke="none"/>
<path d="M541.5,1183.9 L540.3,1183.4 L539,1183 L537.7,1182.8 L536.3,1182.8 L534.8,1183 L533.3,1183.3 L531.8,1183.8 L530.3,1184.5 L528.7,1185.3 L527.2,1186.3 L525.6,1187.5 L524.1,1188.8 L522.6,1190.2 L521.2,1191.8 L519.8,1193.5 L518.5,1195.3 L517.2,1197.2 L516.1,1199.2 L515,1201.3 L514,1203.4 L513.2,1205.7 L512.4,1207.9 L511.7,1210.2 L511.2,1212.5 L510.8,1214.8 L510.6,1217.1 L510.4,1219.3 L510.4,1221.6 L510.5,1223.7 L510.8,1225.9 L511.2,1227.9 L511.8,1229.8 L512.4,1231.7 L513.2,1233.4 L514.2,1235 L515.2,1236.5 L516.4,1237.9 L517.6,1239.1 L519,1240.1 L520.5,1241"/>
<path d="M515.7,1232.5 L514.8,1231.9 L514,1231.2 L513.2,1230.4 L512.6,1229.5 L512.1,1228.4 L511.6,1227.3 L511.3,1226 L511,1224.7 L510.9,1223.2 L510.9,1221.7 L511,1220.2 L511.2,1218.5 L511.6,1216.9 L512,1215.2 L512.5,1213.5 L513.2,1211.7 L514,1210 L514.8,1208.3 L515.8,1206.6 L516.9,1205 L518,1203.3 L519.2,1201.8 L520.5,1200.3 L521.9,1198.9 L523.3,1197.6 L524.8,1196.4 L526.3,1195.2 L527.9,1194.2 L529.5,1193.3 L531.1,1192.6 L532.7,1191.9 L534.3,1191.4 L535.9,1191.1 L537.5,1190.8 L539.1,1190.7 L540.6,1190.8 L542.1,1191 L543.6,1191.3 L545,1191.8 L546.3,1192.5"/>
<path d="M555.8,1192.2 L554.6,1191.6 L553.3,1191.3 L552,1191.1 L550.6,1191.1 L549.1,1191.2 L547.6,1191.6 L546.1,1192.1 L544.6,1192.7 L543,1193.6 L541.5,1194.6 L539.9,1195.7 L538.4,1197 L536.9,1198.5 L535.5,1200 L534.1,1201.7 L532.8,1203.5 L531.5,1205.5 L530.4,1207.5 L529.3,1209.5 L528.3,1211.7 L527.4,1213.9 L526.7,1216.2 L526,1218.4 L525.5,1220.7 L525.1,1223 L524.8,1225.3 L524.7,1227.6 L524.7,1229.8 L524.8,1232 L525.1,1234.1 L525.5,1236.1 L526.1,1238.1 L526.7,1239.9 L527.5,1241.7 L528.4,1243.3 L529.5,1244.8 L530.7,1246.1 L531.9,1247.3 L533.3,1248.4 L534.8,1249.3 L530,1240.7 L529.1,1240.2 L528.3,1239.5 L527.5,1238.7 L526.9,1237.7 L526.3,1236.7 L525.9,1235.5 L525.6,1234.3 L525.3,1232.9 L525.2,1231.5 L525.2,1230 L525.3,1228.4 L525.5,1226.8 L525.8,1225.1 L526.3,1223.4 L526.8,1221.7 L527.5,1220 L528.3,1218.3 L529.1,1216.5 L530.1,1214.9 L531.1,1213.2 L532.3,1211.6 L533.5,1210 L534.8,1208.6 L536.2,1207.2 L537.6,1205.8 L539.1,1204.6 L540.6,1203.5 L542.2,1202.5 L543.8,1201.6 L545.4,1200.8 L547,1200.2 L548.6,1199.7 L550.2,1199.3 L551.8,1199.1 L553.4,1199 L554.9,1199 L556.4,1199.2 L557.9,1199.6 L559.3,1200.1 L560.6,1200.7 Z" fill="#fff" stroke="none"/>
<path d="M555.8,1192.2 L554.6,1191.6 L553.3,1191.3 L552,1191.1 L550.6,1191.1 L549.1,1191.2 L547.6,1191.6 L546.1,1192.1 L544.6,1192.7 L543,1193.6 L541.5,1194.6 L539.9,1195.7 L538.4,1197 L536.9,1198.5 L535.5,1200 L534.1,1201.7 L532.8,1203.5 L531.5,1205.5 L530.4,1207.5 L529.3,1209.5 L528.3,1211.7 L527.4,1213.9 L526.7,1216.2 L526,1218.4 L525.5,1220.7 L525.1,1223 L524.8,1225.3 L524.7,1227.6 L524.7,1229.8 L524.8,1232 L525.1,1234.1 L525.5,1236.1 L526.1,1238.1 L526.7,1239.9 L527.5,1241.7 L528.4,1243.3 L529.5,1244.8 L530.7,1246.1 L531.9,1247.3 L533.3,1248.4 L534.8,1249.3"/>
<path d="M530,1240.7 L529.1,1240.2 L528.3,1239.5 L527.5,1238.7 L526.9,1237.7 L526.3,1236.7 L525.9,1235.5 L525.6,1234.3 L525.3,1232.9 L525.2,1231.5 L525.2,1230 L525.3,1228.4 L525.5,1226.8 L525.8,1225.1 L526.3,1223.4 L526.8,1221.7 L527.5,1220 L528.3,1218.3 L529.1,1216.5 L530.1,1214.9 L531.1,1213.2 L532.3,1211.6 L533.5,1210 L534.8,1208.6 L536.2,1207.2 L537.6,1205.8 L539.1,1204.6 L540.6,1203.5 L542.2,1202.5 L543.8,1201.6 L545.4,1200.8 L547,1200.2 L548.6,1199.7 L550.2,1199.3 L551.8,1199.1 L553.4,1199 L554.9,1199 L556.4,1199.2 L557.9,1199.6 L559.3,1200.1 L560.6,1200.7"/>
<path d="M570.1,1200.4 L568.9,1199.9 L567.6,1199.5 L566.2,1199.3 L564.8,1199.3 L563.4,1199.5 L561.9,1199.8 L560.3,1200.3 L558.8,1201 L557.2,1201.8 L555.7,1202.8 L554.1,1203.9 L552.6,1205.2 L551.1,1206.7 L549.7,1208.2 L548.3,1209.9 L547,1211.7 L545.7,1213.7 L544.6,1215.7 L543.5,1217.7 L542.5,1219.9 L541.6,1222.1 L540.8,1224.3 L540.2,1226.6 L539.7,1228.9 L539.3,1231.2 L539,1233.5 L538.8,1235.8 L538.8,1238 L539,1240.1 L539.2,1242.3 L539.6,1244.3 L540.2,1246.2 L540.8,1248.1 L541.6,1249.8 L542.5,1251.4 L543.6,1252.9 L544.7,1254.3 L546,1255.5 L547.4,1256.5 L548.8,1257.4 L544.2,1249 L543.4,1248.4 L542.5,1247.7 L541.8,1246.9 L541.2,1246 L540.6,1244.9 L540.2,1243.8 L539.8,1242.5 L539.6,1241.1 L539.4,1239.7 L539.4,1238.2 L539.5,1236.6 L539.7,1235 L540.1,1233.3 L540.5,1231.6 L541,1229.9 L541.7,1228.2 L542.5,1226.4 L543.3,1224.7 L544.3,1223 L545.3,1221.4 L546.5,1219.8 L547.7,1218.2 L549,1216.7 L550.3,1215.3 L551.8,1214 L553.2,1212.8 L554.7,1211.7 L556.3,1210.6 L557.9,1209.8 L559.5,1209 L561.1,1208.3 L562.7,1207.8 L564.3,1207.5 L565.9,1207.2 L567.5,1207.1 L569,1207.2 L570.5,1207.4 L571.9,1207.7 L573.3,1208.2 L574.7,1208.8 Z" fill="#fff" stroke="none"/>
<path d="M570.1,1200.4 L568.9,1199.9 L567.6,1199.5 L566.2,1199.3 L564.8,1199.3 L563.4,1199.5 L561.9,1199.8 L560.3,1200.3 L558.8,1201 L557.2,1201.8 L555.7,1202.8 L554.1,1203.9 L552.6,1205.2 L551.1,1206.7 L549.7,1208.2 L548.3,1209.9 L547,1211.7 L545.7,1213.7 L544.6,1215.7 L543.5,1217.7 L542.5,1219.9 L541.6,1222.1 L540.8,1224.3 L540.2,1226.6 L539.7,1228.9 L539.3,1231.2 L539,1233.5 L538.8,1235.8 L538.8,1238 L539,1240.1 L539.2,1242.3 L539.6,1244.3 L540.2,1246.2 L540.8,1248.1 L541.6,1249.8 L542.5,1251.4 L543.6,1252.9 L544.7,1254.3 L546,1255.5 L547.4,1256.5 L548.8,1257.4"/>
<path d="M544.2,1249 L543.4,1248.4 L542.5,1247.7 L541.8,1246.9 L541.2,1246 L540.6,1244.9 L540.2,1243.8 L539.8,1242.5 L539.6,1241.1 L539.4,1239.7 L539.4,1238.2 L539.5,1236.6 L539.7,1235 L540.1,1233.3 L540.5,1231.6 L541,1229.9 L541.7,1228.2 L542.5,1226.4 L543.3,1224.7 L544.3,1223 L545.3,1221.4 L546.5,1219.8 L547.7,1218.2 L549,1216.7 L550.3,1215.3 L551.8,1214 L553.2,1212.8 L554.7,1211.7 L556.3,1210.6 L557.9,1209.8 L559.5,1209 L561.1,1208.3 L562.7,1207.8 L564.3,1207.5 L565.9,1207.2 L567.5,1207.1 L569,1207.2 L570.5,1207.4 L571.9,1207.7 L573.3,1208.2 L574.7,1208.8"/>
<path d="M583.9,1208.4 L582.7,1207.9 L581.5,1207.5 L580.1,1207.3 L578.7,1207.3 L577.2,1207.5 L575.8,1207.8 L574.2,1208.3 L572.7,1209 L571.1,1209.8 L569.6,1210.8 L568,1212 L566.5,1213.3 L565,1214.7 L563.6,1216.3 L562.2,1218 L560.9,1219.8 L559.6,1221.7 L558.5,1223.7 L557.4,1225.8 L556.4,1227.9 L555.5,1230.1 L554.8,1232.4 L554.1,1234.7 L553.6,1237 L553.2,1239.3 L552.9,1241.5 L552.8,1243.8 L552.8,1246 L552.9,1248.2 L553.2,1250.3 L553.6,1252.3 L554.1,1254.3 L554.8,1256.1 L555.6,1257.9 L556.5,1259.5 L557.6,1261 L558.7,1262.3 L560,1263.5 L561.4,1264.6 L562.8,1265.5 L558.1,1257 L557.2,1256.4 L556.4,1255.7 L555.7,1254.9 L555,1254 L554.5,1252.9 L554,1251.8 L553.7,1250.5 L553.5,1249.2 L553.3,1247.7 L553.3,1246.2 L553.4,1244.6 L553.6,1243 L554,1241.4 L554.4,1239.7 L554.9,1237.9 L555.6,1236.2 L556.4,1234.5 L557.2,1232.8 L558.2,1231.1 L559.2,1229.4 L560.4,1227.8 L561.6,1226.3 L562.9,1224.8 L564.3,1223.4 L565.7,1222.1 L567.2,1220.8 L568.7,1219.7 L570.3,1218.7 L571.8,1217.8 L573.4,1217 L575.1,1216.4 L576.7,1215.9 L578.3,1215.5 L579.9,1215.3 L581.5,1215.2 L583,1215.3 L584.5,1215.5 L585.9,1215.8 L587.3,1216.3 L588.6,1216.9 Z" fill="#fff" stroke="none"/>
<path d="M583.9,1208.4 L582.7,1207.9 L581.5,1207.5 L580.1,1207.3 L578.7,1207.3 L577.2,1207.5 L575.8,1207.8 L574.2,1208.3 L572.7,1209 L571.1,1209.8 L569.6,1210.8 L568,1212 L566.5,1213.3 L565,1214.7 L563.6,1216.3 L562.2,1218 L560.9,1219.8 L559.6,1221.7 L558.5,1223.7 L557.4,1225.8 L556.4,1227.9 L555.5,1230.1 L554.8,1232.4 L554.1,1234.7 L553.6,1237 L553.2,1239.3 L552.9,1241.5 L552.8,1243.8 L552.8,1246 L552.9,1248.2 L553.2,1250.3 L553.6,1252.3 L554.1,1254.3 L554.8,1256.1 L555.6,1257.9 L556.5,1259.5 L557.6,1261 L558.7,1262.3 L560,1263.5 L561.4,1264.6 L562.8,1265.5"/>
<path d="M558.1,1257 L557.2,1256.4 L556.4,1255.7 L555.7,1254.9 L555,1254 L554.5,1252.9 L554,1251.8 L553.7,1250.5 L553.5,1249.2 L553.3,1247.7 L553.3,1246.2 L553.4,1244.6 L553.6,1243 L554,1241.4 L554.4,1239.7 L554.9,1237.9 L555.6,1236.2 L556.4,1234.5 L557.2,1232.8 L558.2,1231.1 L559.2,1229.4 L560.4,1227.8 L561.6,1226.3 L562.9,1224.8 L564.3,1223.4 L565.7,1222.1 L567.2,1220.8 L568.7,1219.7 L570.3,1218.7 L571.8,1217.8 L573.4,1217 L575.1,1216.4 L576.7,1215.9 L578.3,1215.5 L579.9,1215.3 L581.5,1215.2 L583,1215.3 L584.5,1215.5 L585.9,1215.8 L587.3,1216.3 L588.6,1216.9"/>
<path d="M598,1216.6 L596.7,1215.9 L595.2,1215.5 L593.7,1215.2 L592.1,1215.1 L590.5,1215.1 L588.8,1215.4 L587.1,1215.8 L585.4,1216.3 L583.7,1217.1 L581.9,1217.9 L580.2,1219 L578.5,1220.2 L576.9,1221.5 L575.2,1223 L573.7,1224.6 L572.2,1226.3 L570.8,1228.1 L569.4,1230 L568.2,1232 L567,1234 L566,1236.1 L565,1238.3 L564.2,1240.5 L563.5,1242.7 L562.9,1244.9 L562.5,1247 L562.1,1249.2 L562,1251.3 L561.9,1253.4 L562,1255.4 L562.2,1257.3 L562.6,1259.2 L563.1,1260.9 L563.7,1262.6 L564.5,1264.1 L565.3,1265.5 L566.3,1266.7 L567.4,1267.8 L568.6,1268.7 L569.9,1269.5 L572.2,1265.1 L571.1,1264.5 L570.2,1263.7 L569.2,1262.8 L568.4,1261.7 L567.7,1260.6 L567.1,1259.3 L566.6,1257.9 L566.2,1256.5 L565.9,1255 L565.7,1253.3 L565.6,1251.7 L565.6,1249.9 L565.8,1248.2 L566,1246.4 L566.4,1244.6 L566.9,1242.7 L567.5,1240.9 L568.2,1239.1 L569,1237.3 L569.8,1235.5 L570.8,1233.8 L571.8,1232.2 L573,1230.6 L574.1,1229.1 L575.4,1227.7 L576.7,1226.3 L578,1225.1 L579.4,1224 L580.8,1223 L582.3,1222.1 L583.7,1221.4 L585.1,1220.8 L586.6,1220.3 L588,1220 L589.4,1219.8 L590.8,1219.7 L592.1,1219.8 L593.3,1220.1 L594.6,1220.5 L595.7,1221 Z" fill="#fff" stroke="none"/>
<path d="M598,1216.6 L596.7,1215.9 L595.2,1215.5 L593.7,1215.2 L592.1,1215.1 L590.5,1215.1 L588.8,1215.4 L587.1,1215.8 L585.4,1216.3 L583.7,1217.1 L581.9,1217.9 L580.2,1219 L578.5,1220.2 L576.9,1221.5 L575.2,1223 L573.7,1224.6 L572.2,1226.3 L570.8,1228.1 L569.4,1230 L568.2,1232 L567,1234 L566,1236.1 L565,1238.3 L564.2,1240.5 L563.5,1242.7 L562.9,1244.9 L562.5,1247 L562.1,1249.2 L562,1251.3 L561.9,1253.4 L562,1255.4 L562.2,1257.3 L562.6,1259.2 L563.1,1260.9 L563.7,1262.6 L564.5,1264.1 L565.3,1265.5 L566.3,1266.7 L567.4,1267.8 L568.6,1268.7 L569.9,1269.5"/>
<path d="M572.2,1265.1 L571.1,1264.5 L570.2,1263.7 L569.2,1262.8 L568.4,1261.7 L567.7,1260.6 L567.1,1259.3 L566.6,1257.9 L566.2,1256.5 L565.9,1255 L565.7,1253.3 L565.6,1251.7 L565.6,1249.9 L565.8,1248.2 L566,1246.4 L566.4,1244.6 L566.9,1242.7 L567.5,1240.9 L568.2,1239.1 L569,1237.3 L569.8,1235.5 L570.8,1233.8 L571.8,1232.2 L573,1230.6 L574.1,1229.1 L575.4,1227.7 L576.7,1226.3 L578,1225.1 L579.4,1224 L580.8,1223 L582.3,1222.1 L583.7,1221.4 L585.1,1220.8 L586.6,1220.3 L588,1220 L589.4,1219.8 L590.8,1219.7 L592.1,1219.8 L593.3,1220.1 L594.6,1220.5 L595.7,1221"/>
<path d="M569.9,1269.5 L571.7,1270.3 L573.7,1270.8 L575.8,1271 L578,1270.9 L580.2,1270.5 L582.5,1269.8 L584.8,1268.8 L587.1,1267.5 L589.4,1265.9 L591.6,1264.1 L593.7,1262.1 L595.7,1259.8 L597.6,1257.4 L599.3,1254.8 L600.9,1252.1 L602.3,1249.2 L603.5,1246.4 L604.4,1243.4 L605.2,1240.5 L605.7,1237.6 L606,1234.8 L606,1232 L605.8,1229.4 L605.3,1226.9 L604.6,1224.6 L603.7,1222.5 L602.6,1220.6 L601.3,1219 L599.7,1217.6 L598,1216.6"/>
<path d="M572.2,1265.1 L573.8,1265.8 L575.4,1266.2 L577.2,1266.4 L579,1266.3 L580.9,1265.9 L582.8,1265.3 L584.7,1264.5 L586.6,1263.4 L588.5,1262.1 L590.3,1260.6 L592.1,1258.9 L593.8,1257 L595.3,1255 L596.8,1252.8 L598.1,1250.6 L599.2,1248.2 L600.2,1245.8 L601,1243.4 L601.6,1240.9 L602.1,1238.5 L602.3,1236.2 L602.3,1233.9 L602.1,1231.7 L601.8,1229.6 L601.2,1227.7 L600.4,1225.9 L599.5,1224.4 L598.4,1223 L597.1,1221.9 L595.7,1221"/>
<path d="M559.8,1254.4 L559.6,1253.5 L559.5,1252.5 L559.5,1251.5 L559.5,1250.5 L559.6,1249.4 L559.7,1248.3 L559.9,1247.1 L560.1,1246 L560.4,1244.8 L560.8,1243.6 L561.2,1242.4 L561.7,1241.1 L562.2,1239.9 L562.8,1238.7 L563.5,1237.5 L564.2,1236.3 L564.9,1235.1 L565.7,1233.9 L566.6,1232.8 L567.4,1231.6 L568.4,1230.5 L569.3,1229.5 L570.3,1228.5 L571.4,1227.5 L572.4,1226.5 L573.5,1225.7 L574.7,1224.8 L575.8,1224 L577,1223.3 L578.2,1222.7 L579.4,1222.1 L580.6,1221.5 L581.8,1221 L583,1220.6 L584.2,1220.3 L585.4,1220 L586.6,1219.9 L587.8,1219.7 L589,1219.7 L590.2,1219.7"/>
<path d="M482.4,895 L557.5,1035.5 M562,1045 L569.6,1059 M576,1070 L705,1312 L620,1262.4"/>
<path d="M98,1341.3 L113.1,1317.5 L115.5,1318.8 L116.2,1320.6 L143.9,1305.2 L147,1307 L146.8,1326.6 L115.9,1343.4 L115.5,1350 Z" fill="#111" stroke="#111" stroke-width="1"/>
<path d="M117,1323 L144.5,1307.6 M100.5,1340.5 L113.5,1320.5" stroke="#fff" stroke-width="0.8"/>
<path d="M116.8,1341 V1328.2 L123.8,1324.2 M116.8,1333.8 L122.6,1330.8 M125.8,1323.6 L127.9,1334.3 L130.6,1327 L132.8,1331.5 L135,1320.4 M137.8,1328.8 V1319.8 L141.5,1317.4 Q144.3,1316.2 144.6,1319.5 V1323.6 Q144.4,1326.8 138.4,1328.6" stroke="#fff" stroke-width="1.15"/>
<path d="M339.9,1129.8 Q344.3,1141.9 355.3,1145.2 M356.4,1139.7 Q359.7,1151.8 371.8,1154 M370.7,1146.3 Q376.2,1161.7 389.4,1163.4 M390,1154 Q392.7,1171.6 411.4,1173.8 M414.7,1170.5 Q417,1182 424,1189"/>
<path d="M349.9,1116.2 Q345.4,1125.2 349,1133.3 Q352.6,1139.6 356.2,1145"/>
</g>
<g fill="#990000" font-size="23">
<text x="315" y="188">1</text>
<text x="444" y="200">6</text>
<text x="381.5" y="291">5</text>
<text x="382" y="408.4">4</text>
<text x="459.5" y="539.5">10</text>
<text x="472" y="607">9</text>
<text x="881" y="426.4">8</text>
<text x="754" y="494.5">7</text>
<text x="145" y="1090">3</text>
<text x="354.5" y="1308.8">2</text>
</g>
<text x="25.5" y="56" font-size="38.6" font-weight="bold" fill="#111" textLength="167" lengthAdjust="spacingAndGlyphs">FIG.537A</text>
<g fill="#2a2a2a" font-size="21">
<text x="28.5" y="1540" textLength="190" lengthAdjust="spacingAndGlyphs">LT-A500XL3_P28_P33_537A</text>
<text x="28.5" y="1570" textLength="176.5" lengthAdjust="spacingAndGlyphs">FRONT MASTER CYLINDER</text>
</g>
</svg>
</body></html>
